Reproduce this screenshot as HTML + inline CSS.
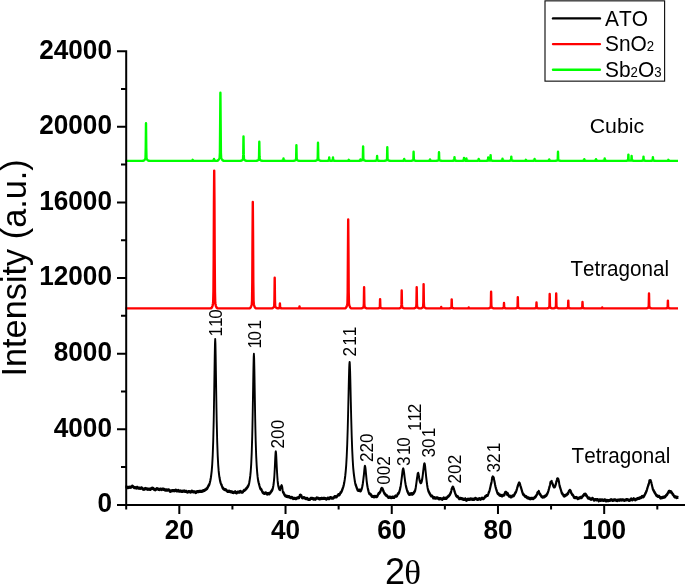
<!DOCTYPE html>
<html><head><meta charset="utf-8"><title>XRD</title>
<style>html,body{margin:0;padding:0;background:#fff}svg{display:block}text{font-family:"Liberation Sans",Arial,sans-serif;fill:#000;font-kerning:none}</style></head>
<body>
<svg width="685" height="584" viewBox="0 0 685 584">
<rect width="685" height="584" fill="#fff"/>
<path d="M125.4,160.85 L142,160.85 L142.25,160.84 L142.5,160.84 L142.75,160.82 L143,160.8 L143.25,160.75 L143.5,160.68 L143.75,160.57 L144,160.42 L144.25,160.21 L144.5,159.96 L144.75,159.67 L145,159.36 L145.25,159.06 L145.5,158.48 L145.75,147.64 L146,123.3 L146.25,147.64 L146.5,158.48 L146.75,159.06 L147,159.36 L147.25,159.67 L147.5,159.96 L147.75,160.21 L148,160.42 L148.25,160.57 L148.5,160.68 L148.75,160.75 L149,160.8 L149.25,160.82 L149.5,160.84 L149.75,160.84 L150,160.85 L188.7,160.85 L188.95,160.85 L189.2,160.85 L189.45,160.85 L189.7,160.85 L189.95,160.85 L190.2,160.85 L190.45,160.84 L190.7,160.84 L190.95,160.83 L191.2,160.83 L191.45,160.82 L191.7,160.81 L191.95,160.8 L192.2,160.79 L192.45,160.74 L192.7,159.8 L192.95,160.74 L193.2,160.79 L193.45,160.8 L193.7,160.81 L193.95,160.82 L194.2,160.83 L194.45,160.83 L194.7,160.84 L194.95,160.84 L195.2,160.85 L195.45,160.85 L195.7,160.85 L195.95,160.85 L196.2,160.85 L196.45,160.85 L196.7,160.85 L210,160.85 L210.25,160.85 L210.5,160.85 L210.75,160.85 L211,160.85 L211.25,160.85 L211.5,160.84 L211.75,160.84 L212,160.83 L212.25,160.82 L212.5,160.81 L212.75,160.79 L213,160.78 L213.25,160.76 L213.5,160.75 L213.75,160.65 L214,159 L214.25,160.65 L214.5,160.75 L214.75,160.76 L215,160.78 L215.25,160.79 L215.5,160.81 L215.75,160.82 L216,160.83 L216.25,160.83 L216.4,160.83 L216.5,160.83 L216.65,160.83 L216.75,160.83 L216.9,160.82 L217,160.81 L217.15,160.8 L217.25,160.78 L217.4,160.75 L217.5,160.72 L217.65,160.67 L217.75,160.63 L217.9,160.54 L218,160.47 L218.15,160.35 L218.4,160.07 L218.65,159.7 L218.9,159.24 L219.15,158.71 L219.4,158.14 L219.65,157.46 L219.9,152.78 L220.15,124.11 L220.4,92.7 L220.65,124.11 L220.9,152.78 L221.15,157.46 L221.4,158.14 L221.65,158.71 L221.9,159.24 L222.15,159.7 L222.4,160.07 L222.65,160.35 L222.9,160.54 L223.15,160.67 L223.4,160.75 L223.65,160.8 L223.9,160.82 L224.15,160.84 L224.4,160.84 L239.5,160.85 L239.75,160.85 L240,160.84 L240.25,160.83 L240.5,160.81 L240.75,160.79 L241,160.74 L241.25,160.67 L241.5,160.57 L241.75,160.44 L242,160.27 L242.25,160.08 L242.5,159.88 L242.75,159.69 L243,159.49 L243.25,154.63 L243.5,136.5 L243.75,154.63 L244,159.49 L244.25,159.69 L244.5,159.88 L244.75,160.08 L245,160.27 L245.25,160.44 L245.5,160.57 L245.75,160.67 L246,160.74 L246.25,160.79 L246.5,160.81 L246.75,160.83 L247,160.84 L247.25,160.85 L247.5,160.85 L255.3,160.85 L255.55,160.85 L255.8,160.84 L256.05,160.84 L256.3,160.82 L256.55,160.8 L256.8,160.76 L257.05,160.71 L257.3,160.63 L257.55,160.53 L257.8,160.4 L258.05,160.25 L258.3,160.09 L258.55,159.94 L258.8,159.8 L259.05,156.69 L259.3,141.7 L259.55,156.69 L259.8,159.8 L260.05,159.94 L260.3,160.09 L260.55,160.25 L260.8,160.4 L261.05,160.53 L261.3,160.63 L261.55,160.71 L261.8,160.76 L262.05,160.8 L262.3,160.82 L262.55,160.84 L262.8,160.84 L263.05,160.85 L263.3,160.85 L279.5,160.85 L279.75,160.85 L280,160.85 L280.25,160.85 L280.5,160.85 L280.75,160.84 L281,160.84 L281.25,160.83 L281.5,160.82 L281.75,160.81 L282,160.79 L282.25,160.77 L282.5,160.75 L282.75,160.73 L283,160.72 L283.25,160.58 L283.5,158.4 L283.75,160.58 L284,160.72 L284.25,160.73 L284.5,160.75 L284.75,160.77 L285,160.79 L285.25,160.81 L285.5,160.82 L285.75,160.83 L286,160.84 L286.25,160.84 L286.5,160.85 L286.75,160.85 L287,160.85 L287.25,160.85 L287.5,160.85 L292.4,160.85 L292.65,160.85 L292.9,160.84 L293.15,160.84 L293.4,160.83 L293.65,160.81 L293.9,160.78 L294.15,160.73 L294.4,160.67 L294.65,160.59 L294.9,160.48 L295.15,160.36 L295.4,160.23 L295.65,160.11 L295.9,160 L296.15,157.84 L296.4,145.2 L296.65,157.84 L296.9,160 L297.15,160.11 L297.4,160.23 L297.65,160.36 L297.9,160.48 L298.15,160.59 L298.4,160.67 L298.65,160.73 L298.9,160.78 L299.15,160.81 L299.4,160.83 L299.65,160.84 L299.9,160.84 L300.15,160.85 L300.4,160.85 L314,160.85 L314.25,160.85 L314.5,160.84 L314.75,160.84 L315,160.82 L315.25,160.8 L315.5,160.77 L315.75,160.72 L316,160.64 L316.25,160.54 L316.5,160.42 L316.75,160.28 L317,160.13 L317.25,159.99 L317.5,159.86 L317.75,157.07 L318,142.8 L318.25,157.07 L318.5,159.86 L318.75,159.99 L319,160.13 L319.25,160.28 L319.5,160.42 L319.75,160.54 L320,160.64 L320.25,160.72 L320.5,160.77 L320.75,160.8 L321,160.82 L321.25,160.84 L321.5,160.84 L321.75,160.85 L322,160.85 L325.2,160.85 L325.45,160.85 L325.7,160.85 L325.95,160.85 L326.2,160.85 L326.45,160.84 L326.7,160.83 L326.95,160.83 L327.2,160.81 L327.45,160.79 L327.7,160.77 L327.95,160.74 L328.2,160.72 L328.45,160.69 L328.7,160.67 L328.95,160.46 L329,160.13 L329.2,157.5 L329.25,157.83 L329.45,160.46 L329.5,160.6 L329.7,160.67 L329.75,160.67 L329.95,160.69 L330,160.69 L330.2,160.71 L330.25,160.71 L330.45,160.73 L330.5,160.73 L330.7,160.75 L330.75,160.75 L330.95,160.76 L331,160.76 L331.2,160.76 L331.25,160.76 L331.45,160.75 L331.5,160.75 L331.7,160.73 L331.75,160.73 L331.95,160.71 L332,160.71 L332.2,160.69 L332.25,160.69 L332.45,160.67 L332.5,160.67 L332.7,160.6 L332.75,160.46 L332.95,157.83 L333,157.5 L333.2,160.13 L333.25,160.46 L333.5,160.67 L333.75,160.69 L334,160.72 L334.25,160.74 L334.5,160.77 L334.75,160.79 L335,160.81 L335.25,160.83 L335.5,160.83 L335.75,160.84 L336,160.85 L336.25,160.85 L336.5,160.85 L336.75,160.85 L337,160.85 L344.8,160.85 L345.05,160.85 L345.3,160.85 L345.55,160.85 L345.8,160.85 L346.05,160.85 L346.3,160.85 L346.55,160.84 L346.8,160.84 L347.05,160.83 L347.3,160.83 L347.55,160.82 L347.8,160.81 L348.05,160.8 L348.3,160.79 L348.55,160.74 L348.8,159.8 L349.05,160.74 L349.3,160.79 L349.55,160.8 L349.8,160.81 L350.05,160.82 L350.3,160.83 L350.55,160.83 L350.8,160.84 L351.05,160.84 L351.3,160.85 L351.55,160.85 L351.8,160.85 L352.05,160.85 L352.3,160.85 L352.55,160.85 L352.8,160.85 L356.4,160.85 L356.65,160.85 L356.9,160.85 L357.15,160.85 L357.4,160.85 L357.65,160.85 L357.9,160.84 L358.15,160.84 L358.4,160.83 L358.65,160.83 L358.9,160.82 L359.1,160.81 L359.15,160.81 L359.35,160.8 L359.4,160.79 L359.6,160.78 L359.65,160.78 L359.85,160.77 L359.9,160.76 L360.1,160.73 L360.15,160.68 L360.35,159.6 L360.4,159.46 L360.6,160.52 L360.65,160.63 L360.85,160.67 L360.9,160.66 L361.1,160.62 L361.15,160.61 L361.35,160.55 L361.4,160.53 L361.6,160.46 L361.65,160.44 L361.85,160.36 L361.9,160.34 L362.1,160.25 L362.15,160.23 L362.35,160.15 L362.4,160.13 L362.6,160.05 L362.65,160.02 L362.85,158.19 L362.9,156.25 L363.1,146.4 L363.15,147.45 L363.35,158.19 L363.4,159.27 L363.6,160.06 L363.65,160.08 L363.85,160.16 L363.9,160.18 L364.1,160.28 L364.15,160.3 L364.35,160.4 L364.4,160.42 L364.6,160.51 L364.85,160.61 L365.1,160.68 L365.35,160.74 L365.6,160.78 L365.85,160.81 L366.1,160.83 L366.35,160.84 L366.6,160.84 L366.85,160.85 L367.1,160.85 L373.1,160.85 L373.35,160.85 L373.6,160.85 L373.85,160.85 L374.1,160.84 L374.35,160.84 L374.6,160.83 L374.85,160.81 L375.1,160.79 L375.35,160.77 L375.6,160.74 L375.85,160.7 L376.1,160.66 L376.35,160.62 L376.6,160.59 L376.85,160.25 L377.1,156 L377.35,160.25 L377.6,160.59 L377.85,160.62 L378.1,160.66 L378.35,160.7 L378.6,160.74 L378.85,160.77 L379.1,160.79 L379.35,160.81 L379.6,160.83 L379.85,160.84 L380.1,160.84 L380.35,160.85 L380.6,160.85 L380.85,160.85 L381.1,160.85 L383.3,160.85 L383.55,160.85 L383.8,160.84 L384.05,160.84 L384.3,160.83 L384.55,160.81 L384.8,160.79 L385.05,160.75 L385.3,160.69 L385.55,160.62 L385.8,160.53 L386.05,160.42 L386.3,160.31 L386.55,160.21 L386.8,160.11 L387.05,158.44 L387.3,147.3 L387.55,158.44 L387.8,160.11 L388.05,160.21 L388.3,160.31 L388.55,160.42 L388.8,160.53 L389.05,160.62 L389.3,160.69 L389.55,160.75 L389.8,160.79 L390.05,160.81 L390.3,160.83 L390.55,160.84 L390.8,160.84 L391.05,160.85 L391.3,160.85 L400.2,160.85 L400.45,160.85 L400.7,160.85 L400.95,160.85 L401.2,160.85 L401.45,160.85 L401.7,160.84 L401.95,160.84 L402.2,160.83 L402.45,160.82 L402.7,160.81 L402.95,160.79 L403.2,160.78 L403.45,160.76 L403.7,160.75 L403.95,160.65 L404.2,159 L404.45,160.65 L404.7,160.75 L404.95,160.76 L405.2,160.78 L405.45,160.79 L405.7,160.81 L405.95,160.82 L406.2,160.83 L406.45,160.84 L406.7,160.84 L406.95,160.85 L407.2,160.85 L407.45,160.85 L407.7,160.85 L407.95,160.85 L408.2,160.85 L409.6,160.85 L409.85,160.85 L410.1,160.85 L410.35,160.84 L410.6,160.84 L410.85,160.83 L411.1,160.81 L411.35,160.78 L411.6,160.74 L411.85,160.7 L412.1,160.63 L412.35,160.56 L412.6,160.49 L412.85,160.41 L413.1,160.35 L413.35,159.49 L413.6,151.7 L413.85,159.49 L414.1,160.35 L414.35,160.41 L414.6,160.49 L414.85,160.56 L415.1,160.63 L415.35,160.7 L415.6,160.74 L415.85,160.78 L416.1,160.81 L416.35,160.83 L416.6,160.84 L416.85,160.84 L417.1,160.85 L417.35,160.85 L417.6,160.85 L426,160.85 L426.25,160.85 L426.5,160.85 L426.75,160.85 L427,160.85 L427.25,160.85 L427.5,160.84 L427.75,160.84 L428,160.83 L428.25,160.83 L428.5,160.82 L428.75,160.81 L429,160.8 L429.25,160.79 L429.5,160.78 L429.75,160.71 L430,159.5 L430.25,160.71 L430.5,160.78 L430.75,160.79 L431,160.8 L431.25,160.81 L431.5,160.82 L431.75,160.83 L432,160.83 L432.25,160.84 L432.5,160.84 L432.75,160.85 L433,160.85 L433.25,160.85 L433.5,160.85 L433.75,160.85 L434,160.85 L435,160.85 L435.25,160.85 L435.5,160.85 L435.75,160.84 L436,160.84 L436.25,160.83 L436.5,160.81 L436.75,160.79 L437,160.75 L437.25,160.7 L437.5,160.65 L437.75,160.58 L438,160.51 L438.25,160.44 L438.5,160.38 L438.75,159.59 L439,152.2 L439.25,159.59 L439.5,160.38 L439.75,160.44 L440,160.51 L440.25,160.58 L440.5,160.65 L440.75,160.7 L441,160.75 L441.25,160.79 L441.5,160.81 L441.75,160.83 L442,160.84 L442.25,160.84 L442.5,160.85 L442.75,160.85 L443,160.85 L450.5,160.85 L450.75,160.85 L451,160.85 L451.25,160.85 L451.5,160.84 L451.75,160.84 L452,160.83 L452.25,160.82 L452.5,160.81 L452.75,160.79 L453,160.76 L453.25,160.74 L453.5,160.71 L453.75,160.68 L454,160.65 L454.25,160.42 L454.5,157.2 L454.75,160.42 L455,160.65 L455.25,160.68 L455.5,160.71 L455.75,160.74 L456,160.76 L456.25,160.79 L456.5,160.81 L456.75,160.82 L457,160.83 L457.25,160.84 L457.5,160.84 L457.75,160.85 L458,160.85 L458.25,160.85 L458.5,160.85 L460,160.85 L460.25,160.85 L460.5,160.85 L460.75,160.85 L461,160.85 L461.25,160.84 L461.5,160.84 L461.75,160.83 L462,160.82 L462.25,160.8 L462.4,160.79 L462.5,160.78 L462.65,160.77 L462.75,160.76 L462.9,160.75 L463,160.74 L463.15,160.72 L463.25,160.71 L463.4,160.7 L463.5,160.69 L463.65,160.67 L463.75,160.52 L463.9,158.97 L464,157.99 L464.15,159.7 L464.25,160.51 L464.4,160.66 L464.5,160.66 L464.65,160.67 L464.75,160.67 L464.9,160.67 L465,160.67 L465.15,160.68 L465.25,160.68 L465.4,160.68 L465.5,160.68 L465.65,160.68 L465.75,160.68 L465.9,160.68 L466,160.68 L466.15,160.56 L466.25,159.91 L466.4,158.48 L466.5,159.31 L466.65,160.58 L466.75,160.7 L466.9,160.72 L467,160.72 L467.15,160.74 L467.25,160.74 L467.4,160.76 L467.5,160.76 L467.65,160.78 L467.75,160.78 L467.9,160.79 L468,160.8 L468.15,160.81 L468.4,160.82 L468.65,160.83 L468.9,160.84 L469.15,160.84 L469.4,160.85 L469.65,160.85 L469.9,160.85 L470.15,160.85 L470.4,160.85 L474.7,160.85 L474.95,160.85 L475.2,160.85 L475.45,160.85 L475.7,160.85 L475.95,160.85 L476.2,160.84 L476.45,160.84 L476.7,160.83 L476.95,160.82 L477.2,160.81 L477.45,160.79 L477.7,160.78 L477.95,160.76 L478.2,160.75 L478.45,160.65 L478.7,159 L478.95,160.65 L479.2,160.75 L479.45,160.76 L479.7,160.78 L479.95,160.79 L480.2,160.81 L480.45,160.82 L480.7,160.83 L480.95,160.84 L481.2,160.84 L481.45,160.85 L481.7,160.85 L481.95,160.85 L482.2,160.85 L482.45,160.85 L482.7,160.85 L484.2,160.85 L484.45,160.85 L484.7,160.85 L484.95,160.85 L485.2,160.85 L485.45,160.84 L485.7,160.83 L485.95,160.83 L486.2,160.81 L486.45,160.79 L486.6,160.78 L486.7,160.77 L486.85,160.75 L486.95,160.74 L487.1,160.73 L487.2,160.71 L487.35,160.7 L487.45,160.68 L487.6,160.67 L487.7,160.66 L487.85,160.63 L487.95,160.44 L488.1,158.61 L488.2,157.47 L488.35,159.46 L488.45,160.41 L488.6,160.59 L488.7,160.59 L488.85,160.58 L488.95,160.58 L489.1,160.57 L489.2,160.56 L489.35,160.55 L489.45,160.54 L489.6,160.53 L489.7,160.52 L489.85,160.51 L489.95,160.5 L490.1,160.49 L490.2,160.48 L490.35,160.08 L490.45,158.36 L490.6,155.08 L490.7,156.92 L490.85,160.1 L490.95,160.48 L491.1,160.53 L491.2,160.55 L491.35,160.57 L491.45,160.59 L491.6,160.62 L491.7,160.64 L491.85,160.67 L491.95,160.69 L492.1,160.71 L492.2,160.73 L492.35,160.75 L492.6,160.78 L492.85,160.81 L493.1,160.82 L493.35,160.83 L493.6,160.84 L493.85,160.85 L494.1,160.85 L494.35,160.85 L494.6,160.85 L498.5,160.85 L498.75,160.85 L499,160.85 L499.25,160.85 L499.5,160.85 L499.75,160.84 L500,160.84 L500.25,160.83 L500.5,160.83 L500.75,160.81 L501,160.8 L501.25,160.78 L501.5,160.76 L501.75,160.75 L502,160.73 L502.25,160.61 L502.5,158.7 L502.75,160.61 L503,160.73 L503.25,160.75 L503.5,160.76 L503.75,160.78 L504,160.8 L504.25,160.81 L504.5,160.83 L504.75,160.83 L505,160.84 L505.25,160.84 L505.5,160.85 L505.75,160.85 L506,160.85 L506.25,160.85 L506.5,160.85 L507.3,160.85 L507.55,160.85 L507.8,160.85 L508.05,160.85 L508.3,160.84 L508.55,160.84 L508.8,160.83 L509.05,160.82 L509.3,160.8 L509.55,160.78 L509.8,160.75 L510.05,160.72 L510.3,160.68 L510.55,160.65 L510.8,160.62 L511.05,160.34 L511.3,156.6 L511.55,160.34 L511.8,160.62 L512.05,160.65 L512.3,160.68 L512.55,160.72 L512.8,160.75 L513.05,160.78 L513.3,160.8 L513.55,160.82 L513.8,160.83 L514.05,160.84 L514.3,160.84 L514.55,160.85 L514.8,160.85 L515.05,160.85 L515.3,160.85 L521.9,160.85 L522.15,160.85 L522.4,160.85 L522.65,160.85 L522.9,160.85 L523.15,160.85 L523.4,160.85 L523.65,160.84 L523.9,160.84 L524.15,160.83 L524.4,160.83 L524.65,160.82 L524.9,160.81 L525.15,160.8 L525.4,160.79 L525.65,160.74 L525.9,159.8 L526.15,160.74 L526.4,160.79 L526.65,160.8 L526.9,160.81 L527.15,160.82 L527.4,160.83 L527.65,160.83 L527.9,160.84 L528.15,160.84 L528.4,160.85 L528.65,160.85 L528.9,160.85 L529.15,160.85 L529.4,160.85 L529.65,160.85 L529.9,160.85 L530.6,160.85 L530.85,160.85 L531.1,160.85 L531.35,160.85 L531.6,160.85 L531.85,160.85 L532.1,160.84 L532.35,160.84 L532.6,160.83 L532.85,160.82 L533.1,160.81 L533.35,160.79 L533.6,160.78 L533.85,160.76 L534.1,160.75 L534.35,160.65 L534.6,159 L534.85,160.65 L535.1,160.75 L535.35,160.76 L535.6,160.78 L535.85,160.79 L536.1,160.81 L536.35,160.82 L536.6,160.83 L536.85,160.84 L537.1,160.84 L537.35,160.85 L537.6,160.85 L537.85,160.85 L538.1,160.85 L538.35,160.85 L538.6,160.85 L545.2,160.85 L545.45,160.85 L545.7,160.85 L545.95,160.85 L546.2,160.85 L546.45,160.85 L546.7,160.84 L546.95,160.84 L547.2,160.83 L547.45,160.83 L547.7,160.82 L547.95,160.81 L548.2,160.8 L548.45,160.79 L548.7,160.78 L548.95,160.71 L549.2,159.5 L549.45,160.71 L549.7,160.78 L549.95,160.79 L550.2,160.8 L550.45,160.81 L550.7,160.82 L550.95,160.83 L551.2,160.83 L551.45,160.84 L551.7,160.84 L551.95,160.85 L552.2,160.85 L552.45,160.85 L552.7,160.85 L552.95,160.85 L553.2,160.85 L554,160.85 L554.25,160.85 L554.5,160.85 L554.75,160.84 L555,160.84 L555.25,160.83 L555.5,160.81 L555.75,160.78 L556,160.74 L556.25,160.7 L556.5,160.63 L556.75,160.56 L557,160.49 L557.25,160.41 L557.5,160.35 L557.75,159.49 L558,151.7 L558.25,159.49 L558.5,160.35 L558.75,160.41 L559,160.49 L559.25,160.56 L559.5,160.63 L559.75,160.7 L560,160.74 L560.25,160.78 L560.5,160.81 L560.75,160.83 L561,160.84 L561.25,160.84 L561.5,160.85 L561.75,160.85 L562,160.85 L580.3,160.85 L580.55,160.85 L580.8,160.85 L581.05,160.85 L581.3,160.85 L581.55,160.85 L581.8,160.84 L582.05,160.84 L582.3,160.83 L582.55,160.82 L582.8,160.81 L583.05,160.8 L583.3,160.79 L583.55,160.78 L583.8,160.77 L584.05,160.68 L584.3,159.3 L584.55,160.68 L584.8,160.77 L585.05,160.78 L585.3,160.79 L585.55,160.8 L585.8,160.81 L586.05,160.82 L586.3,160.83 L586.55,160.84 L586.8,160.84 L587.05,160.85 L587.3,160.85 L587.55,160.85 L587.8,160.85 L588.05,160.85 L588.3,160.85 L592,160.85 L592.25,160.85 L592.5,160.85 L592.75,160.85 L593,160.85 L593.25,160.85 L593.5,160.84 L593.75,160.84 L594,160.83 L594.25,160.82 L594.5,160.81 L594.75,160.8 L595,160.79 L595.25,160.78 L595.5,160.77 L595.75,160.68 L596,159.3 L596.25,160.68 L596.5,160.77 L596.75,160.78 L597,160.79 L597.25,160.8 L597.5,160.81 L597.75,160.82 L598,160.83 L598.25,160.84 L598.5,160.84 L598.75,160.85 L599,160.85 L599.25,160.85 L599.5,160.85 L599.75,160.85 L600,160.85 L600.7,160.85 L600.95,160.85 L601.2,160.85 L601.45,160.85 L601.7,160.85 L601.95,160.84 L602.2,160.84 L602.45,160.83 L602.7,160.82 L602.95,160.81 L603.2,160.79 L603.45,160.78 L603.7,160.76 L603.95,160.74 L604.2,160.72 L604.45,160.59 L604.7,158.5 L604.95,160.59 L605.2,160.72 L605.45,160.74 L605.7,160.76 L605.95,160.78 L606.2,160.79 L606.45,160.81 L606.7,160.82 L606.95,160.83 L607.2,160.84 L607.45,160.84 L607.7,160.85 L607.95,160.85 L608.2,160.85 L608.45,160.85 L608.7,160.85 L624.4,160.85 L624.65,160.85 L624.9,160.85 L625.15,160.85 L625.4,160.84 L625.65,160.83 L625.9,160.82 L626.15,160.8 L626.4,160.78 L626.65,160.74 L626.9,160.7 L627.15,160.65 L627.4,160.6 L627.6,160.56 L627.65,160.55 L627.85,160.52 L627.9,160.51 L628.1,160.34 L628.15,160.03 L628.35,155.17 L628.4,154.6 L628.6,159.33 L628.65,160.02 L628.85,160.49 L628.9,160.5 L629.1,160.52 L629.15,160.53 L629.35,160.56 L629.4,160.56 L629.6,160.59 L629.65,160.59 L629.85,160.61 L629.9,160.61 L630.1,160.62 L630.15,160.62 L630.35,160.62 L630.4,160.62 L630.6,160.61 L630.65,160.6 L630.85,160.59 L630.9,160.58 L631.1,160.57 L631.15,160.57 L631.35,160.24 L631.4,159.73 L631.6,155.99 L631.65,156.46 L631.85,160.25 L631.9,160.47 L632.1,160.59 L632.15,160.59 L632.35,160.62 L632.4,160.63 L632.6,160.66 L632.85,160.7 L633.1,160.74 L633.35,160.77 L633.6,160.79 L633.85,160.81 L634.1,160.83 L634.35,160.84 L634.6,160.84 L634.85,160.85 L635.1,160.85 L635.35,160.85 L635.6,160.85 L639.5,160.85 L639.75,160.85 L640,160.85 L640.25,160.85 L640.5,160.84 L640.75,160.84 L641,160.83 L641.25,160.82 L641.5,160.8 L641.75,160.78 L642,160.75 L642.25,160.72 L642.5,160.68 L642.75,160.65 L643,160.62 L643.25,160.34 L643.5,156.6 L643.75,160.34 L644,160.62 L644.25,160.65 L644.5,160.68 L644.75,160.72 L645,160.75 L645.25,160.78 L645.5,160.8 L645.75,160.82 L646,160.83 L646.25,160.84 L646.5,160.84 L646.75,160.85 L647,160.85 L647.25,160.85 L647.5,160.85 L648.9,160.85 L649.15,160.85 L649.4,160.85 L649.65,160.85 L649.9,160.84 L650.15,160.84 L650.4,160.83 L650.65,160.82 L650.9,160.81 L651.15,160.79 L651.4,160.76 L651.65,160.74 L651.9,160.71 L652.15,160.68 L652.4,160.65 L652.65,160.42 L652.9,157.2 L653.15,160.42 L653.4,160.65 L653.65,160.68 L653.9,160.71 L654.15,160.74 L654.4,160.76 L654.65,160.79 L654.9,160.81 L655.15,160.82 L655.4,160.83 L655.65,160.84 L655.9,160.84 L656.15,160.85 L656.4,160.85 L656.65,160.85 L656.9,160.85 L664.4,160.85 L664.65,160.85 L664.9,160.85 L665.15,160.85 L665.4,160.85 L665.65,160.85 L665.9,160.85 L666.15,160.84 L666.4,160.84 L666.65,160.83 L666.9,160.83 L667.15,160.82 L667.4,160.81 L667.65,160.8 L667.9,160.79 L668.15,160.74 L668.4,159.8 L668.65,160.74 L668.9,160.79 L669.15,160.8 L669.4,160.81 L669.65,160.82 L669.9,160.83 L670.15,160.83 L670.4,160.84 L670.65,160.84 L670.9,160.85 L671.15,160.85 L671.4,160.85 L671.65,160.85 L671.9,160.85 L672.15,160.85 L672.4,160.85 L678,160.85" fill="none" stroke="#00ff00" stroke-width="2.4" stroke-linejoin="round"/>
<path d="M125.4,308.4 L210.2,308.39 L210.45,308.38 L210.7,308.35 L210.95,308.29 L211.2,308.2 L211.45,308.04 L211.7,307.78 L211.95,307.38 L212.2,306.82 L212.45,306.07 L212.7,305.13 L212.95,303.95 L213.2,301.46 L213.45,291.4 L213.7,258.63 L213.95,202.41 L214.2,170.6 L214.45,202.41 L214.7,258.63 L214.95,291.4 L215.2,301.46 L215.45,303.95 L215.7,305.13 L215.95,306.07 L216.2,306.82 L216.45,307.38 L216.7,307.78 L216.95,308.04 L217.2,308.2 L217.45,308.29 L217.7,308.35 L217.95,308.38 L218.2,308.39 L248.8,308.39 L249.05,308.38 L249.3,308.36 L249.55,308.32 L249.8,308.24 L250.05,308.12 L250.3,307.92 L250.55,307.61 L250.8,307.18 L251.05,306.6 L251.3,305.88 L251.55,305.04 L251.8,303.99 L252.05,300.49 L252.3,282.07 L252.55,234.77 L252.8,201.9 L253.05,234.77 L253.3,282.07 L253.55,300.49 L253.8,303.99 L254.05,305.04 L254.3,305.88 L254.55,306.6 L254.8,307.18 L255.05,307.61 L255.3,307.92 L255.55,308.12 L255.8,308.24 L256.05,308.32 L256.3,308.36 L256.55,308.38 L256.8,308.39 L270.7,308.4 L270.95,308.39 L271.2,308.39 L271.45,308.38 L271.7,308.36 L271.95,308.32 L272.2,308.26 L272.45,308.17 L272.7,308.05 L272.95,307.88 L273.2,307.68 L273.45,307.44 L273.7,307.19 L273.95,306.94 L274.2,306.62 L274.45,299.17 L274.7,277.8 L274.95,299.17 L275.2,306.62 L275.45,306.94 L275.7,307.19 L275.9,307.39 L275.95,307.44 L276.15,307.63 L276.2,307.67 L276.4,307.84 L276.45,307.88 L276.65,308.01 L276.7,308.04 L276.9,308.14 L276.95,308.17 L277.15,308.23 L277.2,308.25 L277.4,308.29 L277.45,308.29 L277.65,308.31 L277.7,308.32 L277.9,308.32 L277.95,308.32 L278.15,308.3 L278.2,308.3 L278.4,308.28 L278.45,308.27 L278.65,308.24 L278.7,308.24 L278.9,308.2 L279.15,308.17 L279.4,308.13 L279.65,307.79 L279.9,303.5 L280.15,307.79 L280.4,308.13 L280.65,308.17 L280.9,308.21 L281.15,308.25 L281.4,308.28 L281.65,308.32 L281.9,308.34 L282.15,308.36 L282.4,308.38 L282.65,308.39 L282.9,308.39 L283.15,308.4 L283.4,308.4 L283.65,308.4 L283.9,308.4 L295.5,308.4 L295.75,308.4 L296,308.4 L296.25,308.4 L296.5,308.4 L296.75,308.39 L297,308.39 L297.25,308.39 L297.5,308.38 L297.75,308.37 L298,308.35 L298.25,308.34 L298.5,308.32 L298.75,308.3 L299,308.29 L299.25,308.18 L299.5,306.4 L299.75,308.18 L300,308.29 L300.25,308.3 L300.5,308.32 L300.75,308.34 L301,308.35 L301.25,308.37 L301.5,308.38 L301.75,308.39 L302,308.39 L302.25,308.39 L302.5,308.4 L302.75,308.4 L303,308.4 L303.25,308.4 L303.5,308.4 L344.2,308.39 L344.45,308.38 L344.7,308.37 L344.95,308.33 L345.2,308.27 L345.45,308.17 L345.7,308 L345.95,307.74 L346.2,307.38 L346.45,306.89 L346.7,306.29 L346.95,305.6 L347.2,304.84 L347.45,303.19 L347.7,292.03 L347.95,252.19 L348.2,219.4 L348.45,252.19 L348.7,292.03 L348.95,303.19 L349.2,304.84 L349.45,305.6 L349.7,306.29 L349.95,306.89 L350.2,307.38 L350.45,307.74 L350.7,308 L350.95,308.17 L351.2,308.27 L351.45,308.33 L351.7,308.37 L351.95,308.38 L352.2,308.39 L360.1,308.4 L360.35,308.4 L360.6,308.39 L360.85,308.38 L361.1,308.37 L361.35,308.34 L361.6,308.3 L361.85,308.24 L362.1,308.16 L362.35,308.04 L362.6,307.9 L362.85,307.73 L363.1,307.56 L363.35,307.39 L363.6,307.23 L363.85,303.48 L364.1,287.2 L364.35,303.48 L364.6,307.23 L364.85,307.39 L365.1,307.56 L365.35,307.73 L365.6,307.9 L365.85,308.04 L366.1,308.16 L366.35,308.24 L366.6,308.3 L366.85,308.34 L367.1,308.37 L367.35,308.38 L367.6,308.39 L367.85,308.4 L368.1,308.4 L376.1,308.4 L376.35,308.4 L376.6,308.4 L376.85,308.39 L377.1,308.39 L377.35,308.38 L377.6,308.36 L377.85,308.33 L378.1,308.29 L378.35,308.24 L378.6,308.18 L378.85,308.11 L379.1,308.03 L379.35,307.96 L379.6,307.9 L379.85,307.01 L380.1,299.1 L380.35,307.01 L380.6,307.9 L380.85,307.96 L381.1,308.03 L381.35,308.11 L381.6,308.18 L381.85,308.24 L382.1,308.29 L382.35,308.33 L382.6,308.36 L382.85,308.38 L383.1,308.39 L383.35,308.39 L383.6,308.4 L383.85,308.4 L384.1,308.4 L397.7,308.4 L397.95,308.4 L398.2,308.39 L398.45,308.39 L398.7,308.37 L398.95,308.35 L399.2,308.32 L399.45,308.27 L399.7,308.19 L399.95,308.1 L400.2,307.97 L400.45,307.83 L400.7,307.69 L400.95,307.54 L401.2,307.41 L401.45,304.64 L401.7,290.4 L401.95,304.64 L402.2,307.41 L402.45,307.54 L402.7,307.69 L402.95,307.83 L403.2,307.97 L403.45,308.1 L403.7,308.19 L403.95,308.27 L404.2,308.32 L404.45,308.35 L404.7,308.37 L404.95,308.39 L405.2,308.39 L405.45,308.4 L405.7,308.4 L412.7,308.4 L412.95,308.4 L413.2,308.39 L413.45,308.38 L413.7,308.37 L413.95,308.34 L414.2,308.3 L414.45,308.24 L414.7,308.16 L414.95,308.04 L415.2,307.9 L415.45,307.74 L415.7,307.56 L415.95,307.4 L416.2,307.24 L416.45,303.52 L416.7,287.3 L416.95,303.52 L417.2,307.24 L417.45,307.4 L417.7,307.56 L417.95,307.74 L418.2,307.9 L418.45,308.04 L418.7,308.16 L418.95,308.24 L419.2,308.3 L419.45,308.34 L419.6,308.36 L419.7,308.37 L419.85,308.37 L419.95,308.38 L420.1,308.38 L420.2,308.38 L420.35,308.38 L420.45,308.37 L420.6,308.36 L420.7,308.35 L420.85,308.33 L421.1,308.29 L421.35,308.22 L421.6,308.12 L421.85,307.99 L422.1,307.82 L422.35,307.64 L422.6,307.44 L422.85,307.24 L423.1,307.04 L423.35,302.2 L423.6,284.1 L423.85,302.2 L424.1,307.04 L424.35,307.24 L424.6,307.44 L424.85,307.64 L425.1,307.82 L425.35,307.99 L425.6,308.12 L425.85,308.22 L426.1,308.29 L426.35,308.34 L426.6,308.36 L426.85,308.38 L427.1,308.39 L427.35,308.4 L427.6,308.4 L437.2,308.4 L437.45,308.4 L437.7,308.4 L437.95,308.4 L438.2,308.4 L438.45,308.4 L438.7,308.39 L438.95,308.39 L439.2,308.38 L439.45,308.38 L439.7,308.37 L439.95,308.36 L440.2,308.34 L440.45,308.33 L440.7,308.32 L440.95,308.25 L441.2,307 L441.45,308.25 L441.7,308.32 L441.95,308.33 L442.2,308.34 L442.45,308.36 L442.7,308.37 L442.95,308.38 L443.2,308.38 L443.45,308.39 L443.7,308.39 L443.95,308.4 L444.2,308.4 L444.45,308.4 L444.7,308.4 L444.95,308.4 L445.2,308.4 L447.7,308.4 L447.95,308.4 L448.2,308.4 L448.45,308.39 L448.7,308.39 L448.95,308.38 L449.2,308.36 L449.45,308.33 L449.7,308.3 L449.95,308.25 L450.2,308.19 L450.45,308.12 L450.7,308.04 L450.95,307.97 L451.2,307.91 L451.45,307.07 L451.7,299.4 L451.95,307.07 L452.2,307.91 L452.45,307.97 L452.7,308.04 L452.95,308.12 L453.2,308.19 L453.45,308.25 L453.7,308.3 L453.95,308.33 L454.2,308.36 L454.45,308.38 L454.7,308.39 L454.95,308.39 L455.2,308.4 L455.45,308.4 L455.7,308.4 L464.7,308.4 L464.95,308.4 L465.2,308.4 L465.45,308.4 L465.7,308.4 L465.95,308.4 L466.2,308.4 L466.45,308.39 L466.7,308.39 L466.95,308.38 L467.2,308.38 L467.45,308.37 L467.7,308.36 L467.95,308.36 L468.2,308.35 L468.45,308.31 L468.7,307.5 L468.95,308.31 L469.2,308.35 L469.45,308.36 L469.7,308.36 L469.95,308.37 L470.2,308.38 L470.45,308.38 L470.7,308.39 L470.95,308.39 L471.2,308.4 L471.45,308.4 L471.7,308.4 L471.95,308.4 L472.2,308.4 L472.45,308.4 L472.7,308.4 L487.1,308.4 L487.35,308.4 L487.6,308.39 L487.85,308.39 L488.1,308.38 L488.35,308.36 L488.6,308.32 L488.85,308.28 L489.1,308.21 L489.35,308.12 L489.6,308 L489.85,307.87 L490.1,307.74 L490.35,307.61 L490.6,307.49 L490.85,305.07 L491.1,291.7 L491.35,305.07 L491.6,307.49 L491.85,307.61 L492.1,307.74 L492.35,307.87 L492.6,308 L492.85,308.12 L493.1,308.21 L493.35,308.28 L493.6,308.32 L493.85,308.36 L494.1,308.38 L494.35,308.39 L494.6,308.39 L494.85,308.4 L495.1,308.4 L500,308.4 L500.25,308.4 L500.5,308.4 L500.75,308.4 L501,308.39 L501.25,308.39 L501.5,308.38 L501.75,308.36 L502,308.34 L502.25,308.31 L502.5,308.27 L502.75,308.23 L503,308.19 L503.25,308.14 L503.5,308.11 L503.75,307.72 L504,303 L504.25,307.72 L504.5,308.11 L504.75,308.14 L505,308.19 L505.25,308.23 L505.5,308.27 L505.75,308.31 L506,308.34 L506.25,308.36 L506.5,308.38 L506.75,308.39 L507,308.39 L507.25,308.4 L507.5,308.4 L507.75,308.4 L508,308.4 L513.8,308.4 L514.05,308.4 L514.3,308.4 L514.55,308.39 L514.8,308.38 L515.05,308.37 L515.3,308.35 L515.55,308.32 L515.8,308.27 L516.05,308.21 L516.3,308.13 L516.55,308.05 L516.8,307.96 L517.05,307.87 L517.3,307.79 L517.55,306.58 L517.8,297.2 L518.05,306.58 L518.3,307.79 L518.55,307.87 L518.8,307.96 L519.05,308.05 L519.3,308.13 L519.55,308.21 L519.8,308.27 L520.05,308.32 L520.3,308.35 L520.55,308.37 L520.8,308.38 L521.05,308.39 L521.3,308.4 L521.55,308.4 L521.8,308.4 L532.5,308.4 L532.75,308.4 L533,308.4 L533.25,308.4 L533.5,308.39 L533.75,308.38 L534,308.37 L534.25,308.36 L534.5,308.33 L534.75,308.3 L535,308.26 L535.25,308.21 L535.5,308.17 L535.75,308.12 L536,308.08 L536.25,307.64 L536.5,302.5 L536.75,307.64 L537,308.08 L537.25,308.12 L537.5,308.17 L537.75,308.21 L538,308.26 L538.25,308.3 L538.5,308.33 L538.75,308.36 L539,308.37 L539.25,308.38 L539.5,308.39 L539.75,308.4 L540,308.4 L540.25,308.4 L540.5,308.4 L545.7,308.4 L545.95,308.4 L546.2,308.39 L546.45,308.39 L546.7,308.38 L546.95,308.36 L547.2,308.33 L547.45,308.29 L547.7,308.23 L547.95,308.16 L548.2,308.06 L548.45,307.95 L548.7,307.83 L548.95,307.72 L549.2,307.62 L549.45,305.76 L549.7,294 L549.95,305.76 L550.2,307.62 L550.45,307.72 L550.7,307.83 L550.95,307.95 L551.2,308.06 L551.45,308.16 L551.7,308.23 L551.95,308.29 L552.2,308.33 L552.45,308.36 L552.7,308.37 L552.95,308.38 L553.2,308.37 L553.45,308.36 L553.7,308.33 L553.95,308.29 L554.2,308.23 L554.45,308.15 L554.7,308.05 L554.95,307.93 L555.2,307.81 L555.45,307.69 L555.7,307.59 L555.95,305.61 L556.2,293.5 L556.45,305.61 L556.7,307.59 L556.95,307.69 L557.2,307.81 L557.45,307.93 L557.7,308.05 L557.95,308.15 L558.2,308.23 L558.45,308.29 L558.7,308.33 L558.95,308.36 L559.2,308.38 L559.45,308.39 L559.7,308.39 L559.95,308.4 L560.2,308.4 L564.3,308.4 L564.55,308.4 L564.8,308.4 L565.05,308.39 L565.3,308.39 L565.55,308.38 L565.8,308.36 L566.05,308.34 L566.3,308.31 L566.55,308.27 L566.8,308.22 L567.05,308.15 L567.3,308.09 L567.55,308.03 L567.8,307.98 L568.05,307.3 L568.3,300.6 L568.55,307.3 L568.8,307.98 L569.05,308.03 L569.3,308.09 L569.55,308.15 L569.8,308.22 L570.05,308.27 L570.3,308.31 L570.55,308.34 L570.8,308.36 L571.05,308.38 L571.3,308.39 L571.55,308.39 L571.8,308.4 L572.05,308.4 L572.3,308.4 L578.5,308.4 L578.75,308.4 L579,308.4 L579.25,308.4 L579.5,308.39 L579.75,308.38 L580,308.37 L580.25,308.35 L580.5,308.33 L580.75,308.29 L581,308.25 L581.25,308.2 L581.5,308.15 L581.75,308.1 L582,308.05 L582.25,307.55 L582.5,302 L582.75,307.55 L583,308.05 L583.25,308.1 L583.5,308.15 L583.75,308.2 L584,308.25 L584.25,308.29 L584.5,308.33 L584.75,308.35 L585,308.37 L585.25,308.38 L585.5,308.39 L585.75,308.4 L586,308.4 L586.25,308.4 L586.5,308.4 L598.2,308.4 L598.45,308.4 L598.7,308.4 L598.95,308.4 L599.2,308.4 L599.45,308.4 L599.7,308.4 L599.95,308.39 L600.2,308.39 L600.45,308.38 L600.7,308.38 L600.95,308.37 L601.2,308.36 L601.45,308.36 L601.7,308.35 L601.95,308.31 L602.2,307.5 L602.45,308.31 L602.7,308.35 L602.95,308.36 L603.2,308.36 L603.45,308.37 L603.7,308.38 L603.95,308.38 L604.2,308.39 L604.45,308.39 L604.7,308.4 L604.95,308.4 L605.2,308.4 L605.45,308.4 L605.7,308.4 L605.95,308.4 L606.2,308.4 L645,308.4 L645.25,308.4 L645.5,308.39 L645.75,308.39 L646,308.38 L646.25,308.36 L646.5,308.33 L646.75,308.29 L647,308.23 L647.25,308.15 L647.5,308.05 L647.75,307.93 L648,307.81 L648.25,307.69 L648.5,307.59 L648.75,305.61 L649,293.5 L649.25,305.61 L649.5,307.59 L649.75,307.69 L650,307.81 L650.25,307.93 L650.5,308.05 L650.75,308.15 L651,308.23 L651.25,308.29 L651.5,308.33 L651.75,308.36 L652,308.38 L652.25,308.39 L652.5,308.39 L652.75,308.4 L653,308.4 L663.9,308.4 L664.15,308.4 L664.4,308.4 L664.65,308.39 L664.9,308.39 L665.15,308.38 L665.4,308.36 L665.65,308.34 L665.9,308.31 L666.15,308.27 L666.4,308.22 L666.65,308.15 L666.9,308.09 L667.15,308.03 L667.4,307.98 L667.65,307.3 L667.9,300.6 L668.15,307.3 L668.4,307.98 L668.65,308.03 L668.9,308.09 L669.15,308.15 L669.4,308.22 L669.65,308.27 L669.9,308.31 L670.15,308.34 L670.4,308.36 L670.65,308.38 L670.9,308.39 L671.15,308.39 L671.4,308.4 L671.65,308.4 L671.9,308.4 L678,308.4" fill="none" stroke="#ff0000" stroke-width="2.4" stroke-linejoin="round"/>
<path d="M126.2,486.18 L126.7,486.2 L127.2,486.81 L127.7,487 L128.2,486.94 L128.7,486.58 L129.2,486.57 L129.7,486.5 L130.2,486.48 L130.7,486.58 L131.2,486.41 L131.7,485.99 L132.2,485.47 L132.7,485.65 L133.2,486.06 L133.7,486.57 L134.2,486.95 L134.7,486.85 L135.2,486.89 L135.7,487.03 L136.2,487.33 L136.7,486.9 L137.2,486.64 L137.7,486.94 L138.2,487.5 L138.7,487.49 L139.2,487.35 L139.7,487.49 L140.2,487.74 L140.7,487.58 L141.2,487.06 L141.7,487.2 L142.2,487.67 L142.7,488.17 L143.2,488.42 L143.7,488.6 L144.2,488.58 L144.7,487.98 L145.2,487.74 L145.7,487.95 L146.2,488.16 L146.7,488.1 L147.2,488.21 L147.7,488.55 L148.2,488.55 L148.7,488.43 L149.2,488.36 L149.7,488.64 L150.2,488.7 L150.7,488.43 L151.2,487.82 L151.7,487.61 L152.2,487.61 L152.7,487.52 L153.2,487.93 L153.7,488.17 L154.2,488.69 L154.7,488.79 L155.2,489.25 L155.7,488.83 L156.2,488.33 L156.7,488.03 L157.2,488.02 L157.7,488.29 L158.2,488.41 L158.7,488.69 L159.2,488.79 L159.7,488.84 L160.2,488.45 L160.7,488.4 L161.2,488.54 L161.7,488.85 L162.2,488.44 L162.7,488.44 L163.2,488.41 L163.7,488.65 L164.2,488.74 L164.7,489.19 L165.2,489.19 L165.7,489.36 L166.2,489.28 L166.7,489.36 L167.2,489.28 L167.7,489.43 L168.2,489.31 L168.7,489.14 L169.2,489.45 L169.7,490.3 L170.2,490.65 L170.7,490.51 L171.2,490.08 L171.7,490.12 L172.2,490.01 L172.7,489.97 L173.2,489.92 L173.7,489.87 L174.2,489.91 L174.7,490.09 L175.2,489.81 L175.7,489.37 L176.2,489.68 L176.7,490.28 L177.2,490.3 L177.7,489.82 L178.2,489.77 L178.7,490.09 L179.2,490.54 L179.7,490.49 L180.2,490.28 L180.7,490.3 L181.2,490.55 L181.7,490.7 L182.2,490.52 L182.7,490.57 L183.2,490.53 L183.7,490.46 L184.2,490.25 L184.7,490.56 L185.2,490.58 L185.7,490.69 L186.2,490.61 L186.7,490.97 L187.2,491.28 L187.7,491.41 L188.2,491.11 L188.7,490.82 L189.2,490.86 L189.7,491.04 L190.2,491.24 L190.7,491.36 L191.2,490.85 L191.7,490.44 L192.2,490.59 L192.7,490.95 L193.2,491.14 L193.7,491.21 L194.2,491.16 L194.7,491.09 L195.2,491.41 L195.7,491.82 L196.2,491.65 L196.7,491.24 L197.2,490.81 L197.7,490.88 L198.2,490.86 L198.7,490.9 L199.2,490.77 L199.7,490.75 L200.2,490.61 L200.7,490.67 L201.2,490.61 L201.7,490.69 L202.2,490.53 L202.7,490.5 L203.2,490.02 L203.7,489.95 L204.2,489.81 L204.7,489.62 L205.2,489.02 L205.7,488.75 L206.2,488.43 L206.7,488.15 L207.2,487.71 L207.7,486.66 L208.2,485.61 L208.7,484.85 L209.2,483.96 L209.7,482.48 L210.2,480.42 L210.7,477.96 L211.2,474.6 L211.7,470.28 L212.2,464.07 L212.7,454.77 L213.2,440.98 L213.7,420.19 L213.95,406.37 L214.2,390.19 L214.45,372.67 L214.7,355.94 L214.95,343.47 L215.2,338.84 L215.45,343.62 L215.7,356.2 L215.95,372.92 L216.2,390.38 L216.45,406.36 L216.7,420.1 L217.2,440.93 L217.7,454.8 L218.2,464.28 L218.7,470.68 L219.2,475.05 L219.7,478.05 L220.2,480.62 L220.7,482.31 L221.2,483.52 L221.7,484.63 L222.2,486.11 L222.7,487.2 L223.2,487.81 L223.7,488.25 L224.2,488.58 L224.7,488.84 L225.2,488.91 L225.7,489.04 L226.2,489.48 L226.7,489.97 L227.2,490.43 L227.7,490.75 L228.2,490.62 L228.7,490.62 L229.2,490.4 L229.7,490.78 L230.2,490.89 L230.7,491.1 L231.2,491.05 L231.7,491.16 L232.2,491.44 L232.7,491.63 L233.2,491.79 L233.7,491.88 L234.2,491.53 L234.7,491.4 L235.2,491.08 L235.7,491.82 L236.2,492.09 L236.7,492.16 L237.2,491.66 L237.7,491.51 L238.2,491.4 L238.7,491.4 L239.2,491.56 L239.7,491.05 L240.2,490.75 L240.7,490.87 L241.2,491.41 L241.7,491.38 L242.2,491.52 L242.7,491.42 L243.2,490.73 L243.7,489.91 L244.2,489.59 L244.7,489.58 L245.2,489.05 L245.7,488.58 L246.2,487.98 L246.7,487.42 L247.2,486.79 L247.7,485.96 L248.2,485.27 L248.7,484.09 L249.2,482.22 L249.7,479.29 L250.2,475.69 L250.7,470.74 L251.2,463.49 L251.7,452.56 L252.2,436.34 L252.4,427.79 L252.65,415.22 L252.7,412.45 L252.9,400.52 L253.15,384.6 L253.2,381.34 L253.4,369.36 L253.65,357.98 L253.7,356.5 L253.9,353.73 L254.15,358.05 L254.2,359.87 L254.4,369.41 L254.65,384.69 L254.7,387.86 L254.9,400.68 L255.15,415.4 L255.2,418.2 L255.4,428.2 L255.7,440.61 L256.2,455.5 L256.7,465.42 L257.2,472.03 L257.7,476.88 L258.2,480.1 L258.7,482.22 L259.2,484.02 L259.7,485.99 L260.2,487.55 L260.7,488.24 L261.2,488.62 L261.7,489.51 L262.2,490.61 L262.7,491.6 L263.2,492.01 L263.7,492.54 L264.2,492.58 L264.7,492.69 L265.2,492.37 L265.7,492.24 L266.2,492.38 L266.7,493.08 L267.2,493.43 L267.7,492.94 L268.2,492.75 L268.7,492.99 L269.2,493.19 L269.7,492.67 L270.2,492.2 L270.7,491.55 L271.2,490.9 L271.7,490.04 L272.2,489.44 L272.7,488.07 L273.2,485.9 L273.7,482.74 L274.2,477.48 L274.3,476.22 L274.55,472.03 L274.7,469.41 L274.8,467.03 L275.05,461.6 L275.2,458.25 L275.3,456.32 L275.55,452.42 L275.7,451.37 L275.8,451.21 L276.05,452.59 L276.2,454.59 L276.3,456.35 L276.55,461.53 L276.7,464.88 L276.8,467.09 L277.05,471.6 L277.2,473.83 L277.3,475.74 L277.7,480.91 L278.2,484.72 L278.7,486.7 L279.2,488.1 L279.7,488.57 L280.1,488.8 L280.2,488.48 L280.35,487.75 L280.6,486.46 L280.7,486.6 L280.85,486.5 L281.1,486.32 L281.2,485.92 L281.35,485.48 L281.6,485.06 L281.7,485.25 L281.85,485.53 L282.1,486.25 L282.2,486.73 L282.35,487.54 L282.6,489.34 L282.7,490.19 L282.85,490.95 L283.1,491.45 L283.2,491.52 L283.7,492.49 L284.2,493.52 L284.7,494.36 L285.2,495.03 L285.7,495.24 L286.2,495.41 L286.7,495.76 L287.2,495.7 L287.7,495.9 L288.2,495.83 L288.7,496.15 L289.2,495.99 L289.7,496.48 L290.2,496.66 L290.7,497 L291.2,496.82 L291.7,496.72 L292.2,496.86 L292.7,497.37 L293.2,497.87 L293.7,497.62 L294.2,497.69 L294.7,497.65 L295.2,497.85 L295.7,497.8 L296.2,497.88 L296.7,497.48 L297.2,497.27 L297.7,497.25 L298.2,497.15 L298.7,496.75 L299,496.95 L299.2,496.98 L299.25,496.71 L299.5,495.65 L299.7,494.86 L299.75,494.62 L300,494.63 L300.2,495.07 L300.25,495.22 L300.5,494.94 L300.7,494.52 L300.75,494.71 L301,495.18 L301.2,495.44 L301.25,494.94 L301.5,495.2 L301.7,495.83 L301.75,496.44 L302,496.85 L302.2,497.05 L302.7,497.15 L303.2,497.04 L303.7,496.93 L304.2,497.02 L304.7,497.38 L305.2,497.62 L305.7,497.93 L306.2,497.93 L306.7,497.77 L307.2,497.66 L307.7,498.14 L308.2,498.56 L308.7,498.61 L309.2,498.58 L309.7,498.75 L310.2,498.39 L310.7,497.67 L311.2,497.57 L311.7,497.71 L312.2,497.71 L312.7,497.84 L313.2,498.19 L313.7,498.36 L314.2,498.1 L314.7,498.39 L315.2,498.57 L315.7,498.31 L316.2,497.66 L316.7,497.22 L317.2,497.45 L317.7,497.46 L318.2,497.54 L318.7,497.81 L319.2,498.15 L319.7,498.2 L320.2,497.89 L320.7,497.99 L321.2,497.71 L321.7,497.66 L322.2,497.74 L322.7,497.8 L323.2,497.7 L323.7,497.75 L324.2,497.71 L324.7,497.7 L325.2,497.82 L325.7,498.16 L326.2,498.33 L326.7,498.33 L327.2,497.76 L327.7,497.45 L328.2,497.48 L328.7,497.94 L329.2,497.9 L329.7,497.51 L330.2,496.91 L330.7,496.87 L331.2,497.18 L331.7,497.38 L332.2,497.37 L332.7,497.43 L333.2,497.33 L333.7,496.98 L334.2,496.46 L334.7,496.02 L335.2,495.94 L335.7,496.17 L336.2,496.14 L336.7,495.97 L337.2,495.32 L337.7,494.78 L338.2,494.13 L338.7,493.98 L339.2,494.08 L339.7,493.63 L340.2,492.58 L340.7,491.83 L341.2,491.4 L341.7,490.39 L342.2,489.18 L342.7,487.74 L343.2,486.31 L343.7,484.54 L344.2,482.31 L344.7,479.14 L345.2,475.4 L345.7,470.67 L346.2,464.46 L346.7,455.75 L347.2,444.21 L347.7,428.66 L348.1,413.13 L348.2,408.79 L348.35,402.08 L348.6,390.7 L348.7,386.2 L348.85,379.75 L349.1,370.4 L349.2,367.46 L349.35,364.09 L349.6,361.82 L349.7,362.13 L349.85,363.97 L350.1,370.26 L350.2,373.71 L350.35,379.64 L350.6,390.72 L350.7,395.33 L350.85,402.08 L351.1,412.94 L351.2,417.1 L351.7,435.18 L352.2,449 L352.7,459.34 L353.2,467.01 L353.7,472.14 L354.2,476.06 L354.7,479.58 L355.2,482.48 L355.7,484.37 L356.2,485.62 L356.7,487.05 L357.2,488.4 L357.7,489.36 L358.2,489.73 L358.7,489.67 L359.2,489.45 L359.7,489.68 L360.2,490.1 L360.7,490.1 L361.2,489.27 L361.7,487.99 L362.2,486.17 L362.7,483.63 L363.2,480.03 L363.5,477.42 L363.7,475.7 L363.75,475.62 L364,473.05 L364.2,470.88 L364.25,470.4 L364.5,467.93 L364.7,466.37 L364.75,465.99 L365,465.66 L365.2,466.3 L365.25,466.61 L365.5,467.98 L365.7,469.84 L365.75,470.4 L366,473.22 L366.2,475.14 L366.25,475.79 L366.5,478.46 L366.7,480.54 L367.2,484.53 L367.7,487.27 L368.2,489.34 L368.7,491.32 L369.2,492.73 L369.7,493.15 L370.2,493.35 L370.7,493.75 L371.2,494.53 L371.7,495.42 L372.2,495.78 L372.7,495.68 L373.2,495.82 L373.7,496.05 L374.2,496.05 L374.7,495.64 L375.2,495.78 L375.7,495.81 L376.2,496.03 L376.7,495.86 L377.2,495.7 L377.7,494.83 L378.2,493.56 L378.7,492.81 L379.2,492.47 L379.7,491.98 L380.2,491.13 L380.5,490.49 L380.7,490.28 L380.75,489.71 L381,488.81 L381.2,488.07 L381.25,488.47 L381.5,488.09 L381.7,487.75 L381.75,487.63 L382,487.75 L382.2,488.15 L382.25,488.26 L382.5,488.35 L382.7,488.28 L382.75,488.47 L383,489.4 L383.2,489.91 L383.25,489.92 L383.5,490.42 L383.7,491.17 L384.2,492.28 L384.7,492.96 L385.2,493.56 L385.7,494.26 L386.2,494.71 L386.7,494.84 L387.2,495.26 L387.7,495.89 L388.2,496.49 L388.7,496.69 L389.2,496.61 L389.7,496.39 L390.2,496.5 L390.7,496.69 L391.2,497.03 L391.7,496.75 L392.2,496.67 L392.7,496.45 L393.2,496.7 L393.7,496.64 L394.2,496.68 L394.7,496.05 L395.2,495.55 L395.7,495.28 L396.2,495.5 L396.7,495.35 L397.2,494.7 L397.7,493.51 L398.2,492.84 L398.7,492.37 L399.2,491.46 L399.7,489.68 L400.2,487.8 L400.7,485.19 L401.2,481.56 L401.7,477.58 L401.95,475.58 L402.2,473.41 L402.45,471.19 L402.7,469.76 L402.95,468.66 L403.2,468.25 L403.45,468.69 L403.7,469.87 L403.95,471.49 L404.2,473.19 L404.45,475.43 L404.7,477.31 L405.2,481.29 L405.7,484.19 L406.2,486.62 L406.7,488.4 L407.2,490.09 L407.7,491.17 L408.2,492.39 L408.7,493.14 L409.2,493.59 L409.7,493.46 L410.2,493.59 L410.7,493.04 L411.2,492.95 L411.7,493.09 L412.2,493.55 L412.7,492.99 L413.2,492.98 L413.7,492.27 L414.2,491.59 L414.7,490.59 L415.2,489.57 L415.7,487.2 L416.2,483.83 L416.5,481.57 L416.7,479.93 L416.75,479.54 L417,477.66 L417.2,476.6 L417.25,476.26 L417.5,474.39 L417.7,473.17 L417.75,473.36 L418,473.18 L418.2,472.93 L418.25,472.7 L418.5,473.43 L418.7,474.66 L418.75,474.75 L419,476.06 L419.2,477.28 L419.25,477.9 L419.5,479.23 L419.7,479.83 L420.2,481.3 L420.7,481.95 L421.2,481.79 L421.7,480.54 L422.2,478.36 L422.7,475.02 L423,472.46 L423.2,470.62 L423.25,470.27 L423.5,468.2 L423.7,466.57 L423.75,466.07 L424,464.38 L424.2,463.44 L424.25,463.48 L424.5,463.24 L424.7,463.48 L424.75,463.61 L425,464.92 L425.2,466.45 L425.25,466.8 L425.5,469.59 L425.7,471.6 L425.75,472.09 L426,474.58 L426.2,476.61 L426.7,480.97 L427.2,484.67 L427.7,487.73 L428.2,489.7 L428.7,490.97 L429.2,491.89 L429.7,492.81 L430.2,493.79 L430.7,494.54 L431.2,495.25 L431.7,495.29 L432.2,495.47 L432.7,496.14 L433.2,497.14 L433.7,497.03 L434.2,496.93 L434.7,497.17 L435.2,497.48 L435.7,497.5 L436.2,497.41 L436.7,497.11 L437.2,497.1 L437.7,497.32 L438.2,497.75 L438.7,497.96 L439.2,498.18 L439.7,497.91 L440.2,497.85 L440.7,497.81 L441.2,498.05 L441.7,498.25 L442.2,498.57 L442.7,498.12 L443.2,497.64 L443.7,497.25 L444.2,497.6 L444.7,497.77 L445.2,497.62 L445.7,497.53 L446.2,497.7 L446.7,497.41 L447.2,496.62 L447.7,496.09 L448.2,495.75 L448.7,495.32 L449.2,494.72 L449.7,494.06 L450.2,493.3 L450.7,492.18 L451.2,490.71 L451.4,489.49 L451.65,488.43 L451.7,488.33 L451.9,488.21 L452.15,487.61 L452.2,487.53 L452.4,486.98 L452.65,486.57 L452.7,486.37 L452.9,486.46 L453.15,486.61 L453.2,486.59 L453.4,486.94 L453.65,487.65 L453.7,487.81 L453.9,488.22 L454.15,489.15 L454.2,489.71 L454.4,490.17 L454.7,491.02 L455.2,492.5 L455.7,493.83 L456.2,494.87 L456.7,495.38 L457.2,495.86 L457.7,495.91 L458.2,496.51 L458.7,497.19 L459.2,498 L459.7,497.94 L460.2,497.76 L460.7,497.76 L461.2,497.86 L461.7,497.86 L462.2,498.04 L462.7,498.45 L463.2,498.42 L463.7,498.62 L464.2,498.79 L464.7,498.53 L465.2,498.09 L465.7,498.63 L466.2,499.53 L466.7,499.57 L467.2,498.88 L467.7,498.62 L468.2,498.51 L468.7,498.75 L469.2,498.64 L469.7,498.62 L470.2,498.24 L470.7,498.4 L471.2,498.28 L471.7,498.39 L472.2,498.62 L472.7,498.64 L473.2,498.46 L473.7,498.62 L474.2,498.59 L474.7,498.2 L475.2,497.66 L475.7,497.87 L476.2,498.1 L476.7,498.4 L477.2,498.62 L477.7,498.67 L478.2,498.45 L478.7,498.33 L479.2,497.98 L479.7,498.1 L480.2,498.28 L480.7,498.64 L481.2,497.96 L481.7,497.62 L482.2,497.53 L482.7,497.82 L483.2,497.8 L483.7,497.8 L484.2,497.25 L484.7,496.58 L485.2,495.87 L485.7,495.84 L486.2,495.17 L486.7,494.87 L487.2,494.79 L487.7,494.71 L488.2,493.53 L488.7,491.92 L489.2,490.76 L489.7,489.24 L490.2,487.1 L490.7,484.82 L491.2,482.73 L491.5,481.73 L491.7,480.6 L491.75,480.01 L492,478.45 L492.2,477.56 L492.25,477.29 L492.5,476.58 L492.7,476.21 L492.75,476.44 L493,476.48 L493.2,476.68 L493.25,476.67 L493.5,477 L493.7,477.35 L493.75,477.3 L494,478.52 L494.2,479.8 L494.25,479.88 L494.5,481.01 L494.7,481.99 L495.2,484.67 L495.7,486.76 L496.2,488.44 L496.7,489.98 L497.2,491.62 L497.7,492.62 L498.2,493.09 L498.7,493.38 L499.2,494.14 L499.7,494.45 L500.2,494.57 L500.7,494.45 L501.2,494.75 L501.7,495.17 L502.2,495.28 L502.7,494.94 L503.2,494.47 L503.7,494.23 L504.2,494.26 L504.5,494.03 L504.7,493.31 L504.75,492.65 L505,492.12 L505.2,491.83 L505.25,492.03 L505.5,492.04 L505.7,492.02 L505.75,491.75 L506,491.77 L506.2,491.77 L506.25,491.97 L506.5,492.17 L506.7,492.74 L506.75,492.93 L507,493.56 L507.2,493.58 L507.25,493.28 L507.5,492.74 L507.7,492.95 L508.2,494 L508.7,495.28 L509.2,495.42 L509.7,495.6 L510.2,495.5 L510.7,496.27 L511.2,496.21 L511.7,496.04 L512.2,495.34 L512.7,495.14 L513.2,495.15 L513.7,495.04 L514.2,494.33 L514.7,493.31 L515.2,492.4 L515.7,491.6 L516.2,490.64 L516.7,489.08 L517.2,487.18 L517.7,485.49 L517.95,484.98 L518.2,484.24 L518.45,483.55 L518.7,482.85 L518.95,482.33 L519.2,482.2 L519.45,482.59 L519.7,482.81 L519.95,483.42 L520.2,484.28 L520.45,485.23 L520.7,485.91 L521.2,487.6 L521.7,489.23 L522.2,490.99 L522.7,492.71 L523.2,493.67 L523.7,494.05 L524.2,494.45 L524.7,495.11 L525.2,495.73 L525.7,495.87 L526.2,495.98 L526.7,496.45 L527.2,497.07 L527.7,497.1 L528.2,497.12 L528.7,497.39 L529.2,497.72 L529.7,497.86 L530.2,497.73 L530.7,498.05 L531.2,497.77 L531.7,497.77 L532.2,497.66 L532.7,497.87 L533.2,497.9 L533.7,497.52 L534.2,497.06 L534.7,496.53 L535.2,496.39 L535.7,495.8 L536.2,495.02 L536.7,494.12 L536.9,493.78 L537.15,492.77 L537.2,492.68 L537.4,492.43 L537.65,491.95 L537.7,492.18 L537.9,492.14 L538.15,492.27 L538.2,492.2 L538.4,491.69 L538.65,491.12 L538.7,490.63 L538.9,491.19 L539.15,491.63 L539.2,492.04 L539.4,492.56 L539.65,493.2 L539.7,493.17 L539.9,493.15 L540.2,493.65 L540.7,494.5 L541.2,495.39 L541.7,495.77 L542.2,496.33 L542.7,496.31 L543.2,496.33 L543.7,496.14 L544.2,496.25 L544.7,495.79 L545.2,495.36 L545.7,494.99 L546.2,494.72 L546.7,494.14 L547.2,493.23 L547.7,492.16 L548.2,490.77 L548.7,489.03 L549.2,487.13 L549.7,485.5 L549.95,484.47 L550.2,482.95 L550.45,481.78 L550.7,481.44 L550.95,481.51 L551.2,481.1 L551.45,481.03 L551.7,480.77 L551.95,481.62 L552.2,482.33 L552.45,483.1 L552.7,483.46 L553.2,484.97 L553.7,485.95 L554.2,486.26 L554.7,486 L555.2,485.24 L555.7,483.89 L556.2,482.11 L556.3,481.57 L556.55,480.51 L556.7,479.93 L556.8,479.77 L557.05,478.78 L557.2,478.5 L557.3,478.13 L557.55,478.23 L557.7,478.3 L557.8,478.59 L558.05,478.32 L558.2,478.34 L558.3,478.62 L558.55,479.84 L558.7,480.27 L558.8,480.43 L559.05,481.54 L559.2,482.73 L559.3,483.59 L559.7,485.61 L560.2,487.07 L560.7,488.66 L561.2,490.34 L561.7,492.09 L562.2,492.76 L562.7,493.53 L563.2,494.07 L563.7,495.06 L564.2,495.4 L564.7,495.31 L565.2,494.64 L565.7,494.59 L566.2,494.34 L566.7,494.12 L567.2,493.45 L567.7,493.06 L568.2,492.45 L568.3,492.49 L568.55,491.48 L568.7,490.92 L568.8,490.77 L569.05,490.42 L569.2,490.3 L569.3,490.22 L569.55,490.18 L569.7,489.76 L569.8,489.64 L570.05,489.65 L570.2,489.92 L570.3,490.07 L570.55,490.25 L570.7,490.63 L570.8,491.09 L571.05,491.97 L571.2,491.99 L571.3,492.25 L571.7,492.99 L572.2,493.81 L572.7,494.15 L573.2,494.99 L573.7,496.08 L574.2,496.81 L574.7,496.9 L575.2,496.85 L575.7,496.96 L576.2,496.8 L576.7,496.96 L577.2,497.34 L577.7,497.93 L578.2,497.71 L578.7,497.47 L579.2,497.36 L579.7,497.17 L580.2,496.88 L580.7,496.66 L581.2,497.03 L581.7,496.73 L582.2,496.18 L582.7,495.39 L583.2,494.95 L583.3,494.86 L583.55,494.67 L583.7,494.44 L583.8,494.11 L584.05,493.69 L584.2,493.72 L584.3,493.72 L584.55,493.84 L584.7,493.76 L584.8,493.61 L585.05,493.47 L585.2,493.79 L585.3,494.02 L585.55,494.07 L585.7,493.69 L585.8,493.71 L586.05,494.18 L586.2,494.84 L586.3,494.63 L586.7,495.05 L587.2,495.87 L587.7,496.86 L588.2,497.45 L588.7,497.53 L589.2,497.62 L589.7,497.5 L590.2,498.11 L590.7,498.53 L591.2,498.58 L591.7,498.26 L592.2,497.72 L592.7,497.65 L593.2,498.39 L593.7,499.19 L594.2,499.41 L594.7,498.91 L595.2,498.9 L595.7,498.85 L596.2,499.13 L596.7,499.08 L597.2,498.86 L597.7,498.89 L598.2,499.56 L598.7,500.16 L599.2,499.69 L599.7,499.1 L600.2,499.06 L600.7,499.6 L601.2,499.5 L601.7,499.27 L602.2,499.16 L602.7,499.51 L603.2,499.63 L603.7,499.66 L604.2,499.46 L604.7,499.13 L605.2,499.41 L605.7,500.02 L606.2,500.26 L606.7,499.78 L607.2,499.79 L607.7,500.01 L608.2,500.04 L608.7,499.82 L609.2,499.79 L609.7,499.73 L610.2,499.45 L610.7,499.15 L611.2,499.03 L611.7,499.16 L612.2,499.46 L612.7,499.73 L613.2,499.63 L613.7,499.39 L614.2,499.17 L614.7,499.2 L615.2,499.24 L615.7,499.32 L616.2,499.64 L616.7,499.8 L617.2,499.9 L617.7,499.46 L618.2,499.46 L618.7,499.38 L619.2,499.57 L619.7,499.38 L620.2,499.21 L620.7,499.14 L621.2,499.26 L621.7,499.34 L622.2,499.13 L622.7,499.16 L623.2,499.25 L623.7,499.44 L624.2,499.58 L624.7,499.57 L625.2,499.32 L625.7,499.25 L626.2,499.04 L626.7,499.1 L627.2,498.92 L627.7,499.04 L628.2,499.22 L628.7,499.48 L629.2,499.73 L629.7,499.49 L630.2,499.23 L630.7,498.48 L631.2,498.19 L631.7,498.65 L632.2,499.19 L632.7,498.93 L633.2,498.43 L633.7,498.06 L634.2,498.33 L634.7,498.58 L635.2,499.11 L635.7,499.03 L636.2,498.54 L636.7,498.26 L637.2,498.07 L637.7,498.01 L638.2,497.59 L638.7,497.65 L639.2,497.66 L639.7,497.22 L640.2,497.09 L640.7,496.96 L641.2,496.72 L641.7,496.07 L642.2,495.65 L642.7,496.09 L643.2,496.12 L643.7,496.01 L644.2,494.99 L644.7,494.22 L645.2,493.07 L645.7,492.16 L646.2,490.91 L646.7,489.85 L647.2,488.11 L647.7,486.42 L648.2,484.66 L648.6,483.72 L648.7,483.62 L648.85,482.97 L649.1,481.84 L649.2,481.01 L649.35,480.29 L649.6,480.05 L649.7,480.57 L649.85,480.62 L650.1,480.42 L650.2,480.17 L650.35,480.25 L650.6,479.96 L650.7,480.2 L650.85,480.58 L651.1,481.23 L651.2,481.23 L651.35,482 L651.6,482.9 L651.7,483.4 L652.2,485.62 L652.7,487.93 L653.2,489.11 L653.7,489.99 L654.2,490.99 L654.7,491.73 L655.2,492.63 L655.7,493.48 L656.2,494.56 L656.7,494.8 L657.2,495.11 L657.7,495.55 L658.2,495.77 L658.7,495.62 L659.2,495.56 L659.7,496.32 L660.2,497.03 L660.7,497.32 L661.2,497.1 L661.7,496.97 L662.2,496.94 L662.7,496.68 L663.2,496.64 L663.7,496.51 L664.2,496.45 L664.7,496.15 L665.2,495.95 L665.7,495.33 L666.2,494.63 L666.7,494.18 L667.2,493.64 L667.7,492.8 L668.2,491.74 L668.45,491.44 L668.7,490.94 L668.95,490.54 L669.2,490.5 L669.45,490.87 L669.7,491.16 L669.95,490.92 L670.2,490.85 L670.45,490.95 L670.7,491.34 L670.95,491.31 L671.2,491.13 L671.7,491.89 L672.2,492.67 L672.7,493.54 L673.2,493.95 L673.7,494.83 L674.2,495.66 L674.7,496.18 L675.2,496.01 L675.7,496.23 L676.2,496.69 L676.7,496.93 L677.2,496.6 L677.7,496.66 M126.2,487.58 L126.7,487.6 L127.2,488.21 L127.7,488.4 L128.2,488.34 L128.7,487.98 L129.2,487.97 L129.7,487.9 L130.2,487.88 L130.7,487.98 L131.2,487.81 L131.7,487.39 L132.2,486.87 L132.7,487.05 L133.2,487.46 L133.7,487.97 L134.2,488.35 L134.7,488.25 L135.2,488.29 L135.7,488.43 L136.2,488.73 L136.7,488.3 L137.2,488.04 L137.7,488.34 L138.2,488.9 L138.7,488.89 L139.2,488.75 L139.7,488.89 L140.2,489.14 L140.7,488.98 L141.2,488.46 L141.7,488.6 L142.2,489.07 L142.7,489.57 L143.2,489.82 L143.7,490 L144.2,489.98 L144.7,489.38 L145.2,489.14 L145.7,489.35 L146.2,489.56 L146.7,489.5 L147.2,489.61 L147.7,489.95 L148.2,489.95 L148.7,489.83 L149.2,489.76 L149.7,490.04 L150.2,490.1 L150.7,489.83 L151.2,489.22 L151.7,489.01 L152.2,489.01 L152.7,488.92 L153.2,489.33 L153.7,489.57 L154.2,490.09 L154.7,490.19 L155.2,490.65 L155.7,490.23 L156.2,489.73 L156.7,489.43 L157.2,489.42 L157.7,489.69 L158.2,489.81 L158.7,490.09 L159.2,490.19 L159.7,490.24 L160.2,489.85 L160.7,489.8 L161.2,489.94 L161.7,490.25 L162.2,489.84 L162.7,489.84 L163.2,489.81 L163.7,490.05 L164.2,490.14 L164.7,490.59 L165.2,490.59 L165.7,490.76 L166.2,490.68 L166.7,490.76 L167.2,490.68 L167.7,490.83 L168.2,490.71 L168.7,490.54 L169.2,490.85 L169.7,491.7 L170.2,492.05 L170.7,491.91 L171.2,491.48 L171.7,491.52 L172.2,491.41 L172.7,491.37 L173.2,491.32 L173.7,491.27 L174.2,491.31 L174.7,491.49 L175.2,491.21 L175.7,490.77 L176.2,491.08 L176.7,491.68 L177.2,491.7 L177.7,491.22 L178.2,491.17 L178.7,491.49 L179.2,491.94 L179.7,491.89 L180.2,491.68 L180.7,491.7 L181.2,491.95 L181.7,492.1 L182.2,491.92 L182.7,491.97 L183.2,491.93 L183.7,491.86 L184.2,491.65 L184.7,491.96 L185.2,491.98 L185.7,492.09 L186.2,492.01 L186.7,492.37 L187.2,492.68 L187.7,492.81 L188.2,492.51 L188.7,492.22 L189.2,492.26 L189.7,492.44 L190.2,492.64 L190.7,492.76 L191.2,492.25 L191.7,491.84 L192.2,491.99 L192.7,492.35 L193.2,492.54 L193.7,492.61 L194.2,492.56 L194.7,492.49 L195.2,492.81 L195.7,493.22 L196.2,493.05 L196.7,492.64 L197.2,492.21 L197.7,492.28 L198.2,492.26 L198.7,492.3 L199.2,492.17 L199.7,492.15 L200.2,492.01 L200.7,492.07 L201.2,492.01 L201.7,492.09 L202.2,491.93 L202.7,491.9 L203.2,491.42 L203.7,491.35 L204.2,491.21 L204.7,491.02 L205.2,490.42 L205.7,490.15 L206.2,489.83 L206.7,489.55 L207.2,489.11 L207.7,488.06 L208.2,487.01 L208.7,486.25 L209.2,485.36 L209.7,483.88 L210.2,481.82 L210.7,479.36 L211.2,476 L211.7,471.68 L212.2,465.47 L212.7,456.17 L213.2,442.38 L213.7,421.59 L213.95,407.77 L214.2,391.59 L214.45,374.07 L214.7,357.34 L214.95,344.87 L215.2,340.24 L215.45,345.02 L215.7,357.6 L215.95,374.32 L216.2,391.78 L216.45,407.76 L216.7,421.5 L217.2,442.33 L217.7,456.2 L218.2,465.68 L218.7,472.08 L219.2,476.45 L219.7,479.45 L220.2,482.02 L220.7,483.71 L221.2,484.92 L221.7,486.03 L222.2,487.51 L222.7,488.6 L223.2,489.21 L223.7,489.65 L224.2,489.98 L224.7,490.24 L225.2,490.31 L225.7,490.44 L226.2,490.88 L226.7,491.37 L227.2,491.83 L227.7,492.15 L228.2,492.02 L228.7,492.02 L229.2,491.8 L229.7,492.18 L230.2,492.29 L230.7,492.5 L231.2,492.45 L231.7,492.56 L232.2,492.84 L232.7,493.03 L233.2,493.19 L233.7,493.28 L234.2,492.93 L234.7,492.8 L235.2,492.48 L235.7,493.22 L236.2,493.49 L236.7,493.56 L237.2,493.06 L237.7,492.91 L238.2,492.8 L238.7,492.8 L239.2,492.96 L239.7,492.45 L240.2,492.15 L240.7,492.27 L241.2,492.81 L241.7,492.78 L242.2,492.92 L242.7,492.82 L243.2,492.13 L243.7,491.31 L244.2,490.99 L244.7,490.98 L245.2,490.45 L245.7,489.98 L246.2,489.38 L246.7,488.82 L247.2,488.19 L247.7,487.36 L248.2,486.67 L248.7,485.49 L249.2,483.62 L249.7,480.69 L250.2,477.09 L250.7,472.14 L251.2,464.89 L251.7,453.96 L252.2,437.74 L252.4,429.19 L252.65,416.62 L252.7,413.85 L252.9,401.92 L253.15,386 L253.2,382.74 L253.4,370.76 L253.65,359.38 L253.7,357.9 L253.9,355.13 L254.15,359.45 L254.2,361.27 L254.4,370.81 L254.65,386.09 L254.7,389.26 L254.9,402.08 L255.15,416.8 L255.2,419.6 L255.4,429.6 L255.7,442.01 L256.2,456.9 L256.7,466.82 L257.2,473.43 L257.7,478.28 L258.2,481.5 L258.7,483.62 L259.2,485.42 L259.7,487.39 L260.2,488.95 L260.7,489.64 L261.2,490.02 L261.7,490.91 L262.2,492.01 L262.7,493 L263.2,493.41 L263.7,493.94 L264.2,493.98 L264.7,494.09 L265.2,493.77 L265.7,493.64 L266.2,493.78 L266.7,494.48 L267.2,494.83 L267.7,494.34 L268.2,494.15 L268.7,494.39 L269.2,494.59 L269.7,494.07 L270.2,493.6 L270.7,492.95 L271.2,492.3 L271.7,491.44 L272.2,490.84 L272.7,489.47 L273.2,487.3 L273.7,484.14 L274.2,478.88 L274.3,477.62 L274.55,473.43 L274.7,470.81 L274.8,468.43 L275.05,463 L275.2,459.65 L275.3,457.72 L275.55,453.82 L275.7,452.77 L275.8,452.61 L276.05,453.99 L276.2,455.99 L276.3,457.75 L276.55,462.93 L276.7,466.28 L276.8,468.49 L277.05,473 L277.2,475.23 L277.3,477.14 L277.7,482.31 L278.2,486.12 L278.7,488.1 L279.2,489.5 L279.7,489.97 L280.1,490.2 L280.2,489.88 L280.35,489.15 L280.6,487.86 L280.7,488 L280.85,487.9 L281.1,487.72 L281.2,487.32 L281.35,486.88 L281.6,486.46 L281.7,486.65 L281.85,486.93 L282.1,487.65 L282.2,488.13 L282.35,488.94 L282.6,490.74 L282.7,491.59 L282.85,492.35 L283.1,492.85 L283.2,492.92 L283.7,493.89 L284.2,494.92 L284.7,495.76 L285.2,496.43 L285.7,496.64 L286.2,496.81 L286.7,497.16 L287.2,497.1 L287.7,497.3 L288.2,497.23 L288.7,497.55 L289.2,497.39 L289.7,497.88 L290.2,498.06 L290.7,498.4 L291.2,498.22 L291.7,498.12 L292.2,498.26 L292.7,498.77 L293.2,499.27 L293.7,499.02 L294.2,499.09 L294.7,499.05 L295.2,499.25 L295.7,499.2 L296.2,499.28 L296.7,498.88 L297.2,498.67 L297.7,498.65 L298.2,498.55 L298.7,498.15 L299,498.35 L299.2,498.38 L299.25,498.11 L299.5,497.05 L299.7,496.26 L299.75,496.02 L300,496.03 L300.2,496.47 L300.25,496.62 L300.5,496.34 L300.7,495.92 L300.75,496.11 L301,496.58 L301.2,496.84 L301.25,496.34 L301.5,496.6 L301.7,497.23 L301.75,497.84 L302,498.25 L302.2,498.45 L302.7,498.55 L303.2,498.44 L303.7,498.33 L304.2,498.42 L304.7,498.78 L305.2,499.02 L305.7,499.33 L306.2,499.33 L306.7,499.17 L307.2,499.06 L307.7,499.54 L308.2,499.96 L308.7,500.01 L309.2,499.98 L309.7,500.15 L310.2,499.79 L310.7,499.07 L311.2,498.97 L311.7,499.11 L312.2,499.11 L312.7,499.24 L313.2,499.59 L313.7,499.76 L314.2,499.5 L314.7,499.79 L315.2,499.97 L315.7,499.71 L316.2,499.06 L316.7,498.62 L317.2,498.85 L317.7,498.86 L318.2,498.94 L318.7,499.21 L319.2,499.55 L319.7,499.6 L320.2,499.29 L320.7,499.39 L321.2,499.11 L321.7,499.06 L322.2,499.14 L322.7,499.2 L323.2,499.1 L323.7,499.15 L324.2,499.11 L324.7,499.1 L325.2,499.22 L325.7,499.56 L326.2,499.73 L326.7,499.73 L327.2,499.16 L327.7,498.85 L328.2,498.88 L328.7,499.34 L329.2,499.3 L329.7,498.91 L330.2,498.31 L330.7,498.27 L331.2,498.58 L331.7,498.78 L332.2,498.77 L332.7,498.83 L333.2,498.73 L333.7,498.38 L334.2,497.86 L334.7,497.42 L335.2,497.34 L335.7,497.57 L336.2,497.54 L336.7,497.37 L337.2,496.72 L337.7,496.18 L338.2,495.53 L338.7,495.38 L339.2,495.48 L339.7,495.03 L340.2,493.98 L340.7,493.23 L341.2,492.8 L341.7,491.79 L342.2,490.58 L342.7,489.14 L343.2,487.71 L343.7,485.94 L344.2,483.71 L344.7,480.54 L345.2,476.8 L345.7,472.07 L346.2,465.86 L346.7,457.15 L347.2,445.61 L347.7,430.06 L348.1,414.53 L348.2,410.19 L348.35,403.48 L348.6,392.1 L348.7,387.6 L348.85,381.15 L349.1,371.8 L349.2,368.86 L349.35,365.49 L349.6,363.22 L349.7,363.53 L349.85,365.37 L350.1,371.66 L350.2,375.11 L350.35,381.04 L350.6,392.12 L350.7,396.73 L350.85,403.48 L351.1,414.34 L351.2,418.5 L351.7,436.58 L352.2,450.4 L352.7,460.74 L353.2,468.41 L353.7,473.54 L354.2,477.46 L354.7,480.98 L355.2,483.88 L355.7,485.77 L356.2,487.02 L356.7,488.45 L357.2,489.8 L357.7,490.76 L358.2,491.13 L358.7,491.07 L359.2,490.85 L359.7,491.08 L360.2,491.5 L360.7,491.5 L361.2,490.67 L361.7,489.39 L362.2,487.57 L362.7,485.03 L363.2,481.43 L363.5,478.82 L363.7,477.1 L363.75,477.02 L364,474.45 L364.2,472.28 L364.25,471.8 L364.5,469.33 L364.7,467.77 L364.75,467.39 L365,467.06 L365.2,467.7 L365.25,468.01 L365.5,469.38 L365.7,471.24 L365.75,471.8 L366,474.62 L366.2,476.54 L366.25,477.19 L366.5,479.86 L366.7,481.94 L367.2,485.93 L367.7,488.67 L368.2,490.74 L368.7,492.72 L369.2,494.13 L369.7,494.55 L370.2,494.75 L370.7,495.15 L371.2,495.93 L371.7,496.82 L372.2,497.18 L372.7,497.08 L373.2,497.22 L373.7,497.45 L374.2,497.45 L374.7,497.04 L375.2,497.18 L375.7,497.21 L376.2,497.43 L376.7,497.26 L377.2,497.1 L377.7,496.23 L378.2,494.96 L378.7,494.21 L379.2,493.87 L379.7,493.38 L380.2,492.53 L380.5,491.89 L380.7,491.68 L380.75,491.11 L381,490.21 L381.2,489.47 L381.25,489.87 L381.5,489.49 L381.7,489.15 L381.75,489.03 L382,489.15 L382.2,489.55 L382.25,489.66 L382.5,489.75 L382.7,489.68 L382.75,489.87 L383,490.8 L383.2,491.31 L383.25,491.32 L383.5,491.82 L383.7,492.57 L384.2,493.68 L384.7,494.36 L385.2,494.96 L385.7,495.66 L386.2,496.11 L386.7,496.24 L387.2,496.66 L387.7,497.29 L388.2,497.89 L388.7,498.09 L389.2,498.01 L389.7,497.79 L390.2,497.9 L390.7,498.09 L391.2,498.43 L391.7,498.15 L392.2,498.07 L392.7,497.85 L393.2,498.1 L393.7,498.04 L394.2,498.08 L394.7,497.45 L395.2,496.95 L395.7,496.68 L396.2,496.9 L396.7,496.75 L397.2,496.1 L397.7,494.91 L398.2,494.24 L398.7,493.77 L399.2,492.86 L399.7,491.08 L400.2,489.2 L400.7,486.59 L401.2,482.96 L401.7,478.98 L401.95,476.98 L402.2,474.81 L402.45,472.59 L402.7,471.16 L402.95,470.06 L403.2,469.65 L403.45,470.09 L403.7,471.27 L403.95,472.89 L404.2,474.59 L404.45,476.83 L404.7,478.71 L405.2,482.69 L405.7,485.59 L406.2,488.02 L406.7,489.8 L407.2,491.49 L407.7,492.57 L408.2,493.79 L408.7,494.54 L409.2,494.99 L409.7,494.86 L410.2,494.99 L410.7,494.44 L411.2,494.35 L411.7,494.49 L412.2,494.95 L412.7,494.39 L413.2,494.38 L413.7,493.67 L414.2,492.99 L414.7,491.99 L415.2,490.97 L415.7,488.6 L416.2,485.23 L416.5,482.97 L416.7,481.33 L416.75,480.94 L417,479.06 L417.2,478 L417.25,477.66 L417.5,475.79 L417.7,474.57 L417.75,474.76 L418,474.58 L418.2,474.33 L418.25,474.1 L418.5,474.83 L418.7,476.06 L418.75,476.15 L419,477.46 L419.2,478.68 L419.25,479.3 L419.5,480.63 L419.7,481.23 L420.2,482.7 L420.7,483.35 L421.2,483.19 L421.7,481.94 L422.2,479.76 L422.7,476.42 L423,473.86 L423.2,472.02 L423.25,471.67 L423.5,469.6 L423.7,467.97 L423.75,467.47 L424,465.78 L424.2,464.84 L424.25,464.88 L424.5,464.64 L424.7,464.88 L424.75,465.01 L425,466.32 L425.2,467.85 L425.25,468.2 L425.5,470.99 L425.7,473 L425.75,473.49 L426,475.98 L426.2,478.01 L426.7,482.37 L427.2,486.07 L427.7,489.13 L428.2,491.1 L428.7,492.37 L429.2,493.29 L429.7,494.21 L430.2,495.19 L430.7,495.94 L431.2,496.65 L431.7,496.69 L432.2,496.87 L432.7,497.54 L433.2,498.54 L433.7,498.43 L434.2,498.33 L434.7,498.57 L435.2,498.88 L435.7,498.9 L436.2,498.81 L436.7,498.51 L437.2,498.5 L437.7,498.72 L438.2,499.15 L438.7,499.36 L439.2,499.58 L439.7,499.31 L440.2,499.25 L440.7,499.21 L441.2,499.45 L441.7,499.65 L442.2,499.97 L442.7,499.52 L443.2,499.04 L443.7,498.65 L444.2,499 L444.7,499.17 L445.2,499.02 L445.7,498.93 L446.2,499.1 L446.7,498.81 L447.2,498.02 L447.7,497.49 L448.2,497.15 L448.7,496.72 L449.2,496.12 L449.7,495.46 L450.2,494.7 L450.7,493.58 L451.2,492.11 L451.4,490.89 L451.65,489.83 L451.7,489.73 L451.9,489.61 L452.15,489.01 L452.2,488.93 L452.4,488.38 L452.65,487.97 L452.7,487.77 L452.9,487.86 L453.15,488.01 L453.2,487.99 L453.4,488.34 L453.65,489.05 L453.7,489.21 L453.9,489.62 L454.15,490.55 L454.2,491.11 L454.4,491.57 L454.7,492.42 L455.2,493.9 L455.7,495.23 L456.2,496.27 L456.7,496.78 L457.2,497.26 L457.7,497.31 L458.2,497.91 L458.7,498.59 L459.2,499.4 L459.7,499.34 L460.2,499.16 L460.7,499.16 L461.2,499.26 L461.7,499.26 L462.2,499.44 L462.7,499.85 L463.2,499.82 L463.7,500.02 L464.2,500.19 L464.7,499.93 L465.2,499.49 L465.7,500.03 L466.2,500.93 L466.7,500.97 L467.2,500.28 L467.7,500.02 L468.2,499.91 L468.7,500.15 L469.2,500.04 L469.7,500.02 L470.2,499.64 L470.7,499.8 L471.2,499.68 L471.7,499.79 L472.2,500.02 L472.7,500.04 L473.2,499.86 L473.7,500.02 L474.2,499.99 L474.7,499.6 L475.2,499.06 L475.7,499.27 L476.2,499.5 L476.7,499.8 L477.2,500.02 L477.7,500.07 L478.2,499.85 L478.7,499.73 L479.2,499.38 L479.7,499.5 L480.2,499.68 L480.7,500.04 L481.2,499.36 L481.7,499.02 L482.2,498.93 L482.7,499.22 L483.2,499.2 L483.7,499.2 L484.2,498.65 L484.7,497.98 L485.2,497.27 L485.7,497.24 L486.2,496.57 L486.7,496.27 L487.2,496.19 L487.7,496.11 L488.2,494.93 L488.7,493.32 L489.2,492.16 L489.7,490.64 L490.2,488.5 L490.7,486.22 L491.2,484.13 L491.5,483.13 L491.7,482 L491.75,481.41 L492,479.85 L492.2,478.96 L492.25,478.69 L492.5,477.98 L492.7,477.61 L492.75,477.84 L493,477.88 L493.2,478.08 L493.25,478.07 L493.5,478.4 L493.7,478.75 L493.75,478.7 L494,479.92 L494.2,481.2 L494.25,481.28 L494.5,482.41 L494.7,483.39 L495.2,486.07 L495.7,488.16 L496.2,489.84 L496.7,491.38 L497.2,493.02 L497.7,494.02 L498.2,494.49 L498.7,494.78 L499.2,495.54 L499.7,495.85 L500.2,495.97 L500.7,495.85 L501.2,496.15 L501.7,496.57 L502.2,496.68 L502.7,496.34 L503.2,495.87 L503.7,495.63 L504.2,495.66 L504.5,495.43 L504.7,494.71 L504.75,494.05 L505,493.52 L505.2,493.23 L505.25,493.43 L505.5,493.44 L505.7,493.42 L505.75,493.15 L506,493.17 L506.2,493.17 L506.25,493.37 L506.5,493.57 L506.7,494.14 L506.75,494.33 L507,494.96 L507.2,494.98 L507.25,494.68 L507.5,494.14 L507.7,494.35 L508.2,495.4 L508.7,496.68 L509.2,496.82 L509.7,497 L510.2,496.9 L510.7,497.67 L511.2,497.61 L511.7,497.44 L512.2,496.74 L512.7,496.54 L513.2,496.55 L513.7,496.44 L514.2,495.73 L514.7,494.71 L515.2,493.8 L515.7,493 L516.2,492.04 L516.7,490.48 L517.2,488.58 L517.7,486.89 L517.95,486.38 L518.2,485.64 L518.45,484.95 L518.7,484.25 L518.95,483.73 L519.2,483.6 L519.45,483.99 L519.7,484.21 L519.95,484.82 L520.2,485.68 L520.45,486.63 L520.7,487.31 L521.2,489 L521.7,490.63 L522.2,492.39 L522.7,494.11 L523.2,495.07 L523.7,495.45 L524.2,495.85 L524.7,496.51 L525.2,497.13 L525.7,497.27 L526.2,497.38 L526.7,497.85 L527.2,498.47 L527.7,498.5 L528.2,498.52 L528.7,498.79 L529.2,499.12 L529.7,499.26 L530.2,499.13 L530.7,499.45 L531.2,499.17 L531.7,499.17 L532.2,499.06 L532.7,499.27 L533.2,499.3 L533.7,498.92 L534.2,498.46 L534.7,497.93 L535.2,497.79 L535.7,497.2 L536.2,496.42 L536.7,495.52 L536.9,495.18 L537.15,494.17 L537.2,494.08 L537.4,493.83 L537.65,493.35 L537.7,493.58 L537.9,493.54 L538.15,493.67 L538.2,493.6 L538.4,493.09 L538.65,492.52 L538.7,492.03 L538.9,492.59 L539.15,493.03 L539.2,493.44 L539.4,493.96 L539.65,494.6 L539.7,494.57 L539.9,494.55 L540.2,495.05 L540.7,495.9 L541.2,496.79 L541.7,497.17 L542.2,497.73 L542.7,497.71 L543.2,497.73 L543.7,497.54 L544.2,497.65 L544.7,497.19 L545.2,496.76 L545.7,496.39 L546.2,496.12 L546.7,495.54 L547.2,494.63 L547.7,493.56 L548.2,492.17 L548.7,490.43 L549.2,488.53 L549.7,486.9 L549.95,485.87 L550.2,484.35 L550.45,483.18 L550.7,482.84 L550.95,482.91 L551.2,482.5 L551.45,482.43 L551.7,482.17 L551.95,483.02 L552.2,483.73 L552.45,484.5 L552.7,484.86 L553.2,486.37 L553.7,487.35 L554.2,487.66 L554.7,487.4 L555.2,486.64 L555.7,485.29 L556.2,483.51 L556.3,482.97 L556.55,481.91 L556.7,481.33 L556.8,481.17 L557.05,480.18 L557.2,479.9 L557.3,479.53 L557.55,479.63 L557.7,479.7 L557.8,479.99 L558.05,479.72 L558.2,479.74 L558.3,480.02 L558.55,481.24 L558.7,481.67 L558.8,481.83 L559.05,482.94 L559.2,484.13 L559.3,484.99 L559.7,487.01 L560.2,488.47 L560.7,490.06 L561.2,491.74 L561.7,493.49 L562.2,494.16 L562.7,494.93 L563.2,495.47 L563.7,496.46 L564.2,496.8 L564.7,496.71 L565.2,496.04 L565.7,495.99 L566.2,495.74 L566.7,495.52 L567.2,494.85 L567.7,494.46 L568.2,493.85 L568.3,493.89 L568.55,492.88 L568.7,492.32 L568.8,492.17 L569.05,491.82 L569.2,491.7 L569.3,491.62 L569.55,491.58 L569.7,491.16 L569.8,491.04 L570.05,491.05 L570.2,491.32 L570.3,491.47 L570.55,491.65 L570.7,492.03 L570.8,492.49 L571.05,493.37 L571.2,493.39 L571.3,493.65 L571.7,494.39 L572.2,495.21 L572.7,495.55 L573.2,496.39 L573.7,497.48 L574.2,498.21 L574.7,498.3 L575.2,498.25 L575.7,498.36 L576.2,498.2 L576.7,498.36 L577.2,498.74 L577.7,499.33 L578.2,499.11 L578.7,498.87 L579.2,498.76 L579.7,498.57 L580.2,498.28 L580.7,498.06 L581.2,498.43 L581.7,498.13 L582.2,497.58 L582.7,496.79 L583.2,496.35 L583.3,496.26 L583.55,496.07 L583.7,495.84 L583.8,495.51 L584.05,495.09 L584.2,495.12 L584.3,495.12 L584.55,495.24 L584.7,495.16 L584.8,495.01 L585.05,494.87 L585.2,495.19 L585.3,495.42 L585.55,495.47 L585.7,495.09 L585.8,495.11 L586.05,495.58 L586.2,496.24 L586.3,496.03 L586.7,496.45 L587.2,497.27 L587.7,498.26 L588.2,498.85 L588.7,498.93 L589.2,499.02 L589.7,498.9 L590.2,499.51 L590.7,499.93 L591.2,499.98 L591.7,499.66 L592.2,499.12 L592.7,499.05 L593.2,499.79 L593.7,500.59 L594.2,500.81 L594.7,500.31 L595.2,500.3 L595.7,500.25 L596.2,500.53 L596.7,500.48 L597.2,500.26 L597.7,500.29 L598.2,500.96 L598.7,501.56 L599.2,501.09 L599.7,500.5 L600.2,500.46 L600.7,501 L601.2,500.9 L601.7,500.67 L602.2,500.56 L602.7,500.91 L603.2,501.03 L603.7,501.06 L604.2,500.86 L604.7,500.53 L605.2,500.81 L605.7,501.42 L606.2,501.66 L606.7,501.18 L607.2,501.19 L607.7,501.41 L608.2,501.44 L608.7,501.22 L609.2,501.19 L609.7,501.13 L610.2,500.85 L610.7,500.55 L611.2,500.43 L611.7,500.56 L612.2,500.86 L612.7,501.13 L613.2,501.03 L613.7,500.79 L614.2,500.57 L614.7,500.6 L615.2,500.64 L615.7,500.72 L616.2,501.04 L616.7,501.2 L617.2,501.3 L617.7,500.86 L618.2,500.86 L618.7,500.78 L619.2,500.97 L619.7,500.78 L620.2,500.61 L620.7,500.54 L621.2,500.66 L621.7,500.74 L622.2,500.53 L622.7,500.56 L623.2,500.65 L623.7,500.84 L624.2,500.98 L624.7,500.97 L625.2,500.72 L625.7,500.65 L626.2,500.44 L626.7,500.5 L627.2,500.32 L627.7,500.44 L628.2,500.62 L628.7,500.88 L629.2,501.13 L629.7,500.89 L630.2,500.63 L630.7,499.88 L631.2,499.59 L631.7,500.05 L632.2,500.59 L632.7,500.33 L633.2,499.83 L633.7,499.46 L634.2,499.73 L634.7,499.98 L635.2,500.51 L635.7,500.43 L636.2,499.94 L636.7,499.66 L637.2,499.47 L637.7,499.41 L638.2,498.99 L638.7,499.05 L639.2,499.06 L639.7,498.62 L640.2,498.49 L640.7,498.36 L641.2,498.12 L641.7,497.47 L642.2,497.05 L642.7,497.49 L643.2,497.52 L643.7,497.41 L644.2,496.39 L644.7,495.62 L645.2,494.47 L645.7,493.56 L646.2,492.31 L646.7,491.25 L647.2,489.51 L647.7,487.82 L648.2,486.06 L648.6,485.12 L648.7,485.02 L648.85,484.37 L649.1,483.24 L649.2,482.41 L649.35,481.69 L649.6,481.45 L649.7,481.97 L649.85,482.02 L650.1,481.82 L650.2,481.57 L650.35,481.65 L650.6,481.36 L650.7,481.6 L650.85,481.98 L651.1,482.63 L651.2,482.63 L651.35,483.4 L651.6,484.3 L651.7,484.8 L652.2,487.02 L652.7,489.33 L653.2,490.51 L653.7,491.39 L654.2,492.39 L654.7,493.13 L655.2,494.03 L655.7,494.88 L656.2,495.96 L656.7,496.2 L657.2,496.51 L657.7,496.95 L658.2,497.17 L658.7,497.02 L659.2,496.96 L659.7,497.72 L660.2,498.43 L660.7,498.72 L661.2,498.5 L661.7,498.37 L662.2,498.34 L662.7,498.08 L663.2,498.04 L663.7,497.91 L664.2,497.85 L664.7,497.55 L665.2,497.35 L665.7,496.73 L666.2,496.03 L666.7,495.58 L667.2,495.04 L667.7,494.2 L668.2,493.14 L668.45,492.84 L668.7,492.34 L668.95,491.94 L669.2,491.9 L669.45,492.27 L669.7,492.56 L669.95,492.32 L670.2,492.25 L670.45,492.35 L670.7,492.74 L670.95,492.71 L671.2,492.53 L671.7,493.29 L672.2,494.07 L672.7,494.94 L673.2,495.35 L673.7,496.23 L674.2,497.06 L674.7,497.58 L675.2,497.41 L675.7,497.63 L676.2,498.09 L676.7,498.33 L677.2,498 L677.7,498.06" fill="none" stroke="#000" stroke-width="1.85" stroke-linejoin="round" stroke-linecap="round"/>
<path d="M126.2,50.3 V505.9 M125.2,504.9 H685 M117,504.9 H126.2 M121,467.09 H126.2 M117,429.28 H126.2 M121,391.47 H126.2 M117,353.67 H126.2 M121,315.86 H126.2 M117,278.05 H126.2 M121,240.24 H126.2 M117,202.43 H126.2 M121,164.62 H126.2 M117,126.82 H126.2 M121,89.01 H126.2 M117,51.2 H126.2 M126.2,504.9 V509.5 M179.31,504.9 V514 M232.42,504.9 V509.5 M285.53,504.9 V514 M338.64,504.9 V509.5 M391.75,504.9 V514 M444.86,504.9 V509.5 M497.97,504.9 V514 M551.08,504.9 V509.5 M604.19,504.9 V514 M657.3,504.9 V509.5" fill="none" stroke="#000" stroke-width="2"/>
<g font-size="26.2" font-weight="bold" text-anchor="end">
<text transform="translate(112,512.3) scale(1,1.075)">0</text>
<text transform="translate(112,436.68) scale(1,1.075)">4000</text>
<text transform="translate(112,361.07) scale(1,1.075)">8000</text>
<text transform="translate(112,285.45) scale(1,1.075)">12000</text>
<text transform="translate(112,209.83) scale(1,1.075)">16000</text>
<text transform="translate(112,134.22) scale(1,1.075)">20000</text>
<text transform="translate(112,58.6) scale(1,1.075)">24000</text>
</g>
<g font-size="26.2" font-weight="bold" text-anchor="middle">
<text transform="translate(179.31,539.1) scale(1,1.075)">20</text>
<text transform="translate(285.53,539.1) scale(1,1.075)">40</text>
<text transform="translate(391.75,539.1) scale(1,1.075)">60</text>
<text transform="translate(497.97,539.1) scale(1,1.075)">80</text>
<text transform="translate(604.19,539.1) scale(1,1.075)">100</text>
</g>
<text transform="translate(25.9,376.5) rotate(-90) scale(1,1.015)" font-size="34.3">Intensity (a.u.)</text>
<text transform="translate(385.1,584) scale(1,1.03)" font-size="36">2</text>
<text transform="translate(404.2,584.2) scale(1,0.94)" font-size="35" style="font-family:'Liberation Serif','DejaVu Serif',serif">θ</text>
<rect x="545" y="0.85" width="119.6" height="80.3" fill="#fff" stroke="#111" stroke-width="1.15"/>
<path d="M553,18.4 H599.9" stroke="#000" stroke-width="2.4" stroke-linecap="round"/>
<path d="M553,44.1 H599.9" stroke="#ff0000" stroke-width="2.4" stroke-linecap="round"/>
<path d="M553,69.8 H599.9" stroke="#00ff00" stroke-width="2.4" stroke-linecap="round"/>
<g font-size="20.9">
<text transform="translate(605.0,25.7) scale(1,1.05)">ATO</text>
<text transform="translate(605.0,51.2) scale(1,1.05)">SnO<tspan font-size="13.2">2</tspan></text>
<text transform="translate(605.0,77.0) scale(1,1.05)">Sb<tspan font-size="13.2">2</tspan>O<tspan font-size="13.2">3</tspan></text>
</g>
<g font-size="20.65">
<text transform="translate(589.7,133.3) scale(1,0.985)" font-size="21.3">Cubic</text>
<text transform="translate(570.4,275.7) scale(1,1.06)">Tetragonal</text>
<text transform="translate(571.6,462.6) scale(1,1.06)">Tetragonal</text>
</g>
<g font-size="17.1">
<text transform="translate(221.5,337.9) rotate(-90) scale(1,1.055)" dx="1.3 0 -1.3">110</text>
<text transform="translate(261.3,349.9) rotate(-90) scale(1,1.055)" dx="1.3 -1.3 1.3">101</text>
<text transform="translate(283.7,448.4) rotate(-90) scale(1,1.055)" dx="0 0 0">200</text>
<text transform="translate(356.1,356.59999999999997) rotate(-90) scale(1,1.055)" dx="0 1.3 0">211</text>
<text transform="translate(373,462.0) rotate(-90) scale(1,1.055)" dx="0 0 0">220</text>
<text transform="translate(389.8,484.7) rotate(-90) scale(1,1.055)" dx="0 0 0">002</text>
<text transform="translate(410,465.9) rotate(-90) scale(1,1.055)" dx="0 1.3 -1.3">310</text>
<text transform="translate(421.4,432.2) rotate(-90) scale(1,1.055)" dx="1.3 0 -1.3">112</text>
<text transform="translate(434.7,457.59999999999997) rotate(-90) scale(1,1.055)" dx="0 0 1.3">301</text>
<text transform="translate(460.7,483.4) rotate(-90) scale(1,1.055)" dx="0 0 0">202</text>
<text transform="translate(500.1,472.59999999999997) rotate(-90) scale(1,1.055)" dx="0 0 1.3">321</text>
</g>
</svg>
</body></html>
